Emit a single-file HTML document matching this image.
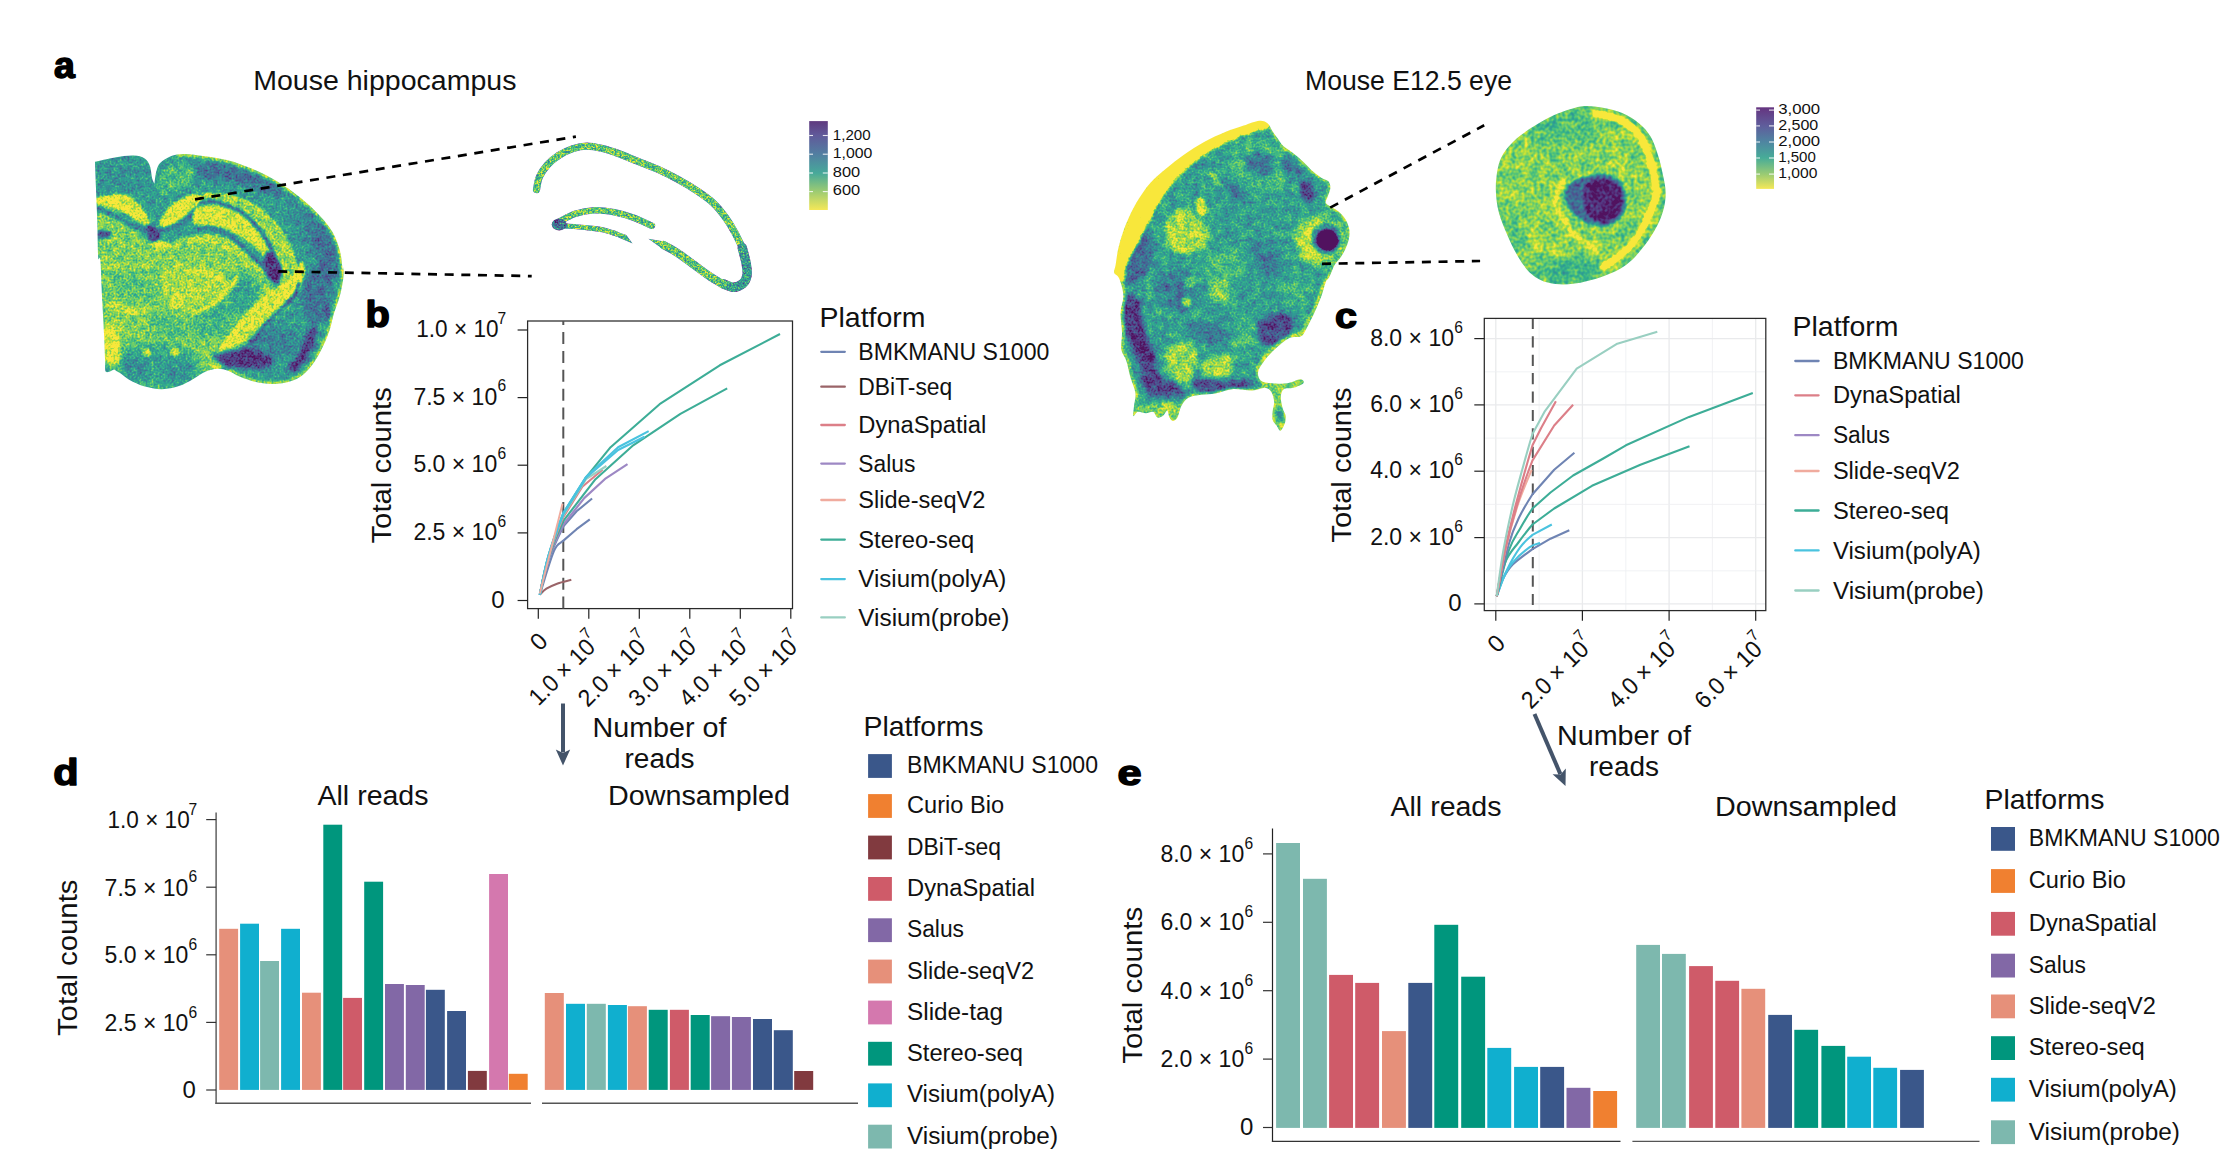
<!DOCTYPE html>
<html><head><meta charset="utf-8"><title>figure</title>
<style>
html,body{margin:0;padding:0;background:#fff;}
body{width:2233px;height:1166px;overflow:hidden;font-family:"Liberation Sans",sans-serif;}
svg{display:block;font-family:"Liberation Sans",sans-serif;}
</style></head><body>
<svg width="2233" height="1166" viewBox="0 0 2233 1166">
<rect width="2233" height="1166" fill="#fff"/>
<defs><clipPath id="brainclip"><path d="M95.0,161.8 C98.3,161.1 108.4,158.5 114.9,157.4 C121.3,156.4 128.5,155.4 133.5,155.6 C138.5,155.7 142.0,156.7 144.7,158.4 C147.4,160.2 148.7,162.8 149.9,166.1 C151.2,169.5 151.4,175.6 152.2,178.6 C152.9,181.5 154.0,182.9 154.4,183.8 C154.8,181.5 155.4,173.6 156.7,169.9 C157.9,166.1 158.7,163.7 162.1,161.2 C165.5,158.6 171.4,155.5 177.0,154.5 C182.6,153.4 187.4,154.0 195.7,154.9 C204.0,155.9 217.5,157.6 226.8,159.9 C236.1,162.2 243.4,165.1 251.7,168.6 C259.9,172.1 268.2,176.1 276.5,181.1 C284.8,186.0 294.1,192.7 301.4,198.5 C308.6,204.3 314.9,210.3 320.0,215.9 C325.2,221.5 329.2,226.2 332.5,232.0 C335.8,237.8 338.2,244.5 339.9,250.7 C341.6,256.9 342.1,266.6 342.7,269.3 C343.3,272.1 343.6,265.6 343.6,267.2 C343.7,268.9 343.8,274.4 343.2,279.2 C342.5,284.0 341.4,290.2 339.8,296.0 C338.2,301.8 335.6,308.0 333.8,314.0 C332.0,320.0 331.2,325.9 329.0,332.1 C326.8,338.3 323.8,345.3 320.6,351.3 C317.4,357.3 313.8,363.5 309.8,368.1 C305.8,372.7 302.0,376.3 296.6,378.9 C291.2,381.5 283.7,383.1 277.3,383.7 C270.9,384.3 264.3,383.7 258.1,382.5 C251.9,381.3 245.1,378.7 240.1,376.7 C235.1,374.8 231.9,372.0 228.1,370.7 C224.3,369.4 221.1,368.6 217.3,368.8 C213.5,369.0 209.3,370.0 205.3,371.7 C201.3,373.4 197.7,376.5 193.3,378.9 C188.9,381.3 184.1,384.4 178.9,386.1 C173.7,387.8 167.9,389.2 162.1,389.2 C156.3,389.3 149.4,387.9 144.0,386.3 C138.6,384.8 133.6,382.3 129.6,380.1 C125.6,377.9 122.6,374.9 120.0,373.1 C117.4,371.4 115.0,370.1 114.0,369.5 C112.7,369.9 107.3,373.3 105.9,371.7 C104.4,370.0 105.5,366.3 105.1,359.7 C104.8,353.1 104.5,342.7 103.9,332.1 C103.4,321.4 102.6,308.0 102.0,296.0 C101.4,284.0 101.0,266.5 100.3,260.0 C99.7,253.5 98.7,263.6 98.2,256.9 C97.7,250.2 97.6,231.0 97.2,219.6 C96.8,208.2 96.3,198.2 96.0,188.5 C95.6,178.9 95.1,166.2 95.0,161.8Z"/></clipPath>
<filter id="bl1" color-interpolation-filters="sRGB" x="-20%" y="-20%" width="140%" height="140%"><feGaussianBlur stdDeviation="0.9"/></filter>
<filter id="bl2" color-interpolation-filters="sRGB" x="-20%" y="-20%" width="140%" height="140%"><feGaussianBlur stdDeviation="2.2"/></filter>
<filter id="bl4" color-interpolation-filters="sRGB" x="-30%" y="-30%" width="160%" height="160%"><feGaussianBlur stdDeviation="4.5"/></filter>
<filter id="virB" color-interpolation-filters="sRGB" x="0" y="0" width="100%" height="100%"><feTurbulence type="fractalNoise" baseFrequency="0.5" numOctaves="2" seed="4" result="t"/><feColorMatrix in="t" type="matrix" values="1 0 0 0 0  1 0 0 0 0  1 0 0 0 0  0 0 0 0 1" result="n"/><feComposite in="SourceGraphic" in2="n" operator="arithmetic" k1="0" k2="1" k3="0.45499999999999996" k4="-0.227" result="g"/><feTurbulence type="fractalNoise" baseFrequency="0.16" numOctaves="2" seed="21" result="t2"/><feColorMatrix in="t2" type="matrix" values="1 0 0 0 0  1 0 0 0 0  1 0 0 0 0  0 0 0 0 1" result="n2"/><feComposite in="g" in2="n2" operator="arithmetic" k1="0" k2="1" k3="0.27999999999999997" k4="-0.140" result="g2"/><feComponentTransfer in="g2" result="c"><feFuncR type="table" tableValues="0.318 0.318 0.318 0.318 0.318 0.318 0.318 0.323 0.328 0.331 0.322 0.313 0.301 0.285 0.270 0.255 0.240 0.226 0.214 0.202 0.190 0.192 0.193 0.203 0.247 0.291 0.346 0.416 0.487 0.567 0.655 0.742 0.821 0.898 0.974 0.974 0.974 0.974 0.974 0.974 0.974"/><feFuncG type="table" tableValues="0.074 0.074 0.074 0.074 0.074 0.074 0.074 0.119 0.165 0.210 0.251 0.293 0.332 0.367 0.402 0.436 0.469 0.501 0.534 0.566 0.599 0.629 0.659 0.689 0.719 0.749 0.776 0.799 0.823 0.843 0.861 0.880 0.891 0.900 0.909 0.909 0.909 0.909 0.909 0.909 0.909"/><feFuncB type="table" tableValues="0.376 0.376 0.376 0.376 0.376 0.376 0.376 0.419 0.462 0.501 0.525 0.548 0.565 0.573 0.581 0.585 0.586 0.588 0.586 0.583 0.581 0.570 0.560 0.546 0.520 0.494 0.462 0.422 0.382 0.332 0.276 0.220 0.216 0.225 0.234 0.234 0.234 0.234 0.234 0.234 0.234"/><feFuncA type="linear" slope="1" intercept="0"/></feComponentTransfer><feComposite in="c" in2="SourceGraphic" operator="in"/></filter><clipPath id="embclip"><path d="M1259.3,120.7 C1263.3,120.3 1265.7,121.8 1267.8,123.5 C1269.9,125.1 1270.5,128.2 1272.0,130.6 C1273.6,132.9 1275.1,135.1 1277.0,137.6 C1278.9,140.2 1280.6,143.5 1283.3,146.1 C1286.1,148.7 1289.9,150.6 1293.3,153.2 C1296.6,155.8 1299.9,158.6 1303.2,161.7 C1306.5,164.8 1310.0,168.9 1313.1,171.6 C1316.1,174.3 1319.0,176.3 1321.6,178.0 C1324.2,179.6 1327.2,179.8 1328.6,181.5 C1330.1,183.3 1330.5,186.0 1330.3,188.6 C1330.1,191.2 1328.3,194.7 1327.5,197.1 C1326.8,199.5 1325.1,201.4 1325.8,203.0 C1326.5,204.7 1329.1,205.4 1331.5,207.0 C1333.8,208.6 1337.6,210.5 1340.0,212.7 C1342.4,214.8 1344.3,217.2 1345.9,220.0 C1347.5,222.9 1348.8,226.4 1349.3,229.6 C1349.8,232.9 1349.4,236.3 1348.7,239.6 C1348.1,242.9 1346.6,246.4 1345.2,249.5 C1343.8,252.5 1342.0,255.4 1340.2,258.0 C1338.5,260.6 1336.4,261.8 1334.6,265.0 C1332.8,268.2 1330.8,274.2 1329.3,277.1 C1327.9,279.9 1327.1,279.0 1325.8,282.0 C1324.5,285.1 1323.4,290.4 1321.6,295.5 C1319.7,300.5 1317.1,306.8 1314.5,312.5 C1311.9,318.1 1308.2,325.5 1306.0,329.4 C1303.7,333.4 1303.9,334.8 1301.0,336.2 C1298.2,337.7 1293.4,336.1 1289.0,338.2 C1284.6,340.4 1279.1,345.3 1274.9,349.3 C1270.6,353.2 1266.3,358.2 1263.5,362.0 C1260.7,365.8 1258.6,368.8 1258.1,371.9 C1257.7,375.0 1258.4,378.5 1260.7,380.4 C1263.0,382.3 1267.5,382.8 1272.0,383.2 C1276.5,383.7 1282.9,383.9 1287.6,383.2 C1292.3,382.6 1297.7,379.3 1300.3,379.3 C1303.0,379.3 1304.6,381.8 1303.4,383.2 C1302.3,384.6 1296.6,386.8 1293.3,387.8 C1289.9,388.8 1285.7,387.6 1283.6,389.2 C1281.6,390.8 1280.9,394.1 1280.8,397.4 C1280.7,400.6 1282.0,405.6 1282.8,408.7 C1283.6,411.8 1285.3,413.3 1285.6,415.8 C1285.9,418.3 1285.6,421.1 1284.8,423.6 C1283.9,426.1 1281.9,430.3 1280.5,430.7 C1279.2,431.0 1278.0,427.5 1276.7,425.7 C1275.4,423.9 1273.4,422.4 1272.7,420.0 C1272.0,417.7 1272.4,414.6 1272.6,411.5 C1272.8,408.5 1274.4,404.9 1274.1,401.6 C1273.9,398.4 1272.8,394.3 1271.3,392.0 C1269.8,389.7 1268.1,388.0 1264.9,387.8 C1261.8,387.5 1257.6,390.4 1252.2,390.6 C1246.8,390.8 1238.5,388.7 1232.4,389.2 C1226.3,389.7 1220.6,392.5 1215.4,393.4 C1210.2,394.4 1205.7,394.1 1201.2,394.8 C1196.8,395.5 1191.8,395.8 1188.5,397.7 C1185.2,399.5 1183.3,402.6 1181.4,405.9 C1179.6,409.1 1178.9,414.7 1177.5,417.2 C1176.1,419.7 1174.3,420.9 1172.9,420.9 C1171.6,420.9 1170.3,419.0 1169.4,417.2 C1168.5,415.5 1168.3,410.6 1167.3,410.4 C1166.2,410.2 1164.7,414.6 1163.0,415.8 C1161.4,417.0 1159.0,418.1 1157.4,417.5 C1155.7,416.8 1155.0,412.5 1153.1,411.8 C1151.2,411.1 1148.6,413.2 1146.0,413.2 C1143.5,413.2 1140.0,411.4 1137.8,411.8 C1135.7,412.3 1133.9,417.1 1133.3,416.1 C1132.7,415.1 1133.7,409.7 1134.0,405.9 C1134.4,402.1 1136.0,397.9 1135.4,393.1 C1134.8,388.4 1132.0,383.0 1130.5,377.6 C1128.9,372.1 1127.8,365.3 1126.2,360.6 C1124.7,355.9 1122.0,354.0 1121.3,349.3 C1120.6,344.5 1122.1,338.4 1122.0,332.3 C1121.9,326.1 1120.3,318.6 1120.6,312.5 C1120.8,306.3 1123.6,301.1 1123.4,295.5 C1123.2,289.8 1120.7,282.3 1119.2,278.5 C1117.6,274.7 1114.8,275.1 1114.2,272.8 C1113.6,270.6 1114.9,269.2 1115.6,265.0 C1116.3,260.9 1117.1,253.7 1118.4,248.1 C1119.7,242.4 1121.4,236.7 1123.4,231.1 C1125.4,225.4 1127.9,219.5 1130.5,214.1 C1133.1,208.7 1135.7,203.7 1139.0,198.5 C1142.3,193.3 1145.8,187.9 1150.3,182.9 C1154.8,178.0 1160.2,173.5 1165.9,168.8 C1171.5,164.1 1177.9,159.1 1184.3,154.6 C1190.6,150.1 1197.2,145.7 1204.1,141.9 C1210.9,138.1 1218.7,134.7 1225.3,132.0 C1231.9,129.3 1238.1,127.5 1243.7,125.6 C1249.4,123.7 1255.3,121.0 1259.3,120.7Z"/></clipPath>
<filter id="virE" color-interpolation-filters="sRGB" x="0" y="0" width="100%" height="100%"><feTurbulence type="fractalNoise" baseFrequency="0.5" numOctaves="2" seed="7" result="t"/><feColorMatrix in="t" type="matrix" values="1 0 0 0 0  1 0 0 0 0  1 0 0 0 0  0 0 0 0 1" result="n"/><feComposite in="SourceGraphic" in2="n" operator="arithmetic" k1="0" k2="1" k3="0.42" k4="-0.210" result="g"/><feTurbulence type="fractalNoise" baseFrequency="0.13" numOctaves="2" seed="23" result="t2"/><feColorMatrix in="t2" type="matrix" values="1 0 0 0 0  1 0 0 0 0  1 0 0 0 0  0 0 0 0 1" result="n2"/><feComposite in="g" in2="n2" operator="arithmetic" k1="0" k2="1" k3="0.315" k4="-0.158" result="g2"/><feComponentTransfer in="g2" result="c"><feFuncR type="table" tableValues="0.318 0.318 0.318 0.318 0.318 0.318 0.318 0.323 0.328 0.331 0.322 0.313 0.301 0.285 0.270 0.255 0.240 0.226 0.214 0.202 0.190 0.192 0.193 0.203 0.247 0.291 0.346 0.416 0.487 0.567 0.655 0.742 0.821 0.898 0.974 0.974 0.974 0.974 0.974 0.974 0.974"/><feFuncG type="table" tableValues="0.074 0.074 0.074 0.074 0.074 0.074 0.074 0.119 0.165 0.210 0.251 0.293 0.332 0.367 0.402 0.436 0.469 0.501 0.534 0.566 0.599 0.629 0.659 0.689 0.719 0.749 0.776 0.799 0.823 0.843 0.861 0.880 0.891 0.900 0.909 0.909 0.909 0.909 0.909 0.909 0.909"/><feFuncB type="table" tableValues="0.376 0.376 0.376 0.376 0.376 0.376 0.376 0.419 0.462 0.501 0.525 0.548 0.565 0.573 0.581 0.585 0.586 0.588 0.586 0.583 0.581 0.570 0.560 0.546 0.520 0.494 0.462 0.422 0.382 0.332 0.276 0.220 0.216 0.225 0.234 0.234 0.234 0.234 0.234 0.234 0.234"/><feFuncA type="linear" slope="1" intercept="0"/></feComponentTransfer><feComposite in="c" in2="SourceGraphic" operator="in"/></filter><filter id="virH" color-interpolation-filters="sRGB" x="-5%" y="-8%" width="110%" height="116%"><feTurbulence type="fractalNoise" baseFrequency="0.6" numOctaves="2" seed="5" result="t"/><feColorMatrix in="t" type="matrix" values="1 0 0 0 0  1 0 0 0 0  1 0 0 0 0  0 0 0 0 1" result="n"/><feComposite in="SourceGraphic" in2="n" operator="arithmetic" k1="0" k2="1" k3="0.77" k4="-0.385" result="g"/><feTurbulence type="fractalNoise" baseFrequency="0.2" numOctaves="2" seed="2" result="t2"/><feColorMatrix in="t2" type="matrix" values="1 0 0 0 0  1 0 0 0 0  1 0 0 0 0  0 0 0 0 1" result="n2"/><feComposite in="g" in2="n2" operator="arithmetic" k1="0" k2="1" k3="0.35" k4="-0.175" result="g2"/><feComponentTransfer in="g2" result="c"><feFuncR type="table" tableValues="0.318 0.318 0.318 0.318 0.318 0.318 0.318 0.323 0.328 0.331 0.322 0.313 0.301 0.285 0.270 0.255 0.240 0.226 0.214 0.202 0.190 0.192 0.193 0.203 0.247 0.291 0.346 0.416 0.487 0.567 0.655 0.742 0.821 0.898 0.974 0.974 0.974 0.974 0.974 0.974 0.974"/><feFuncG type="table" tableValues="0.074 0.074 0.074 0.074 0.074 0.074 0.074 0.119 0.165 0.210 0.251 0.293 0.332 0.367 0.402 0.436 0.469 0.501 0.534 0.566 0.599 0.629 0.659 0.689 0.719 0.749 0.776 0.799 0.823 0.843 0.861 0.880 0.891 0.900 0.909 0.909 0.909 0.909 0.909 0.909 0.909"/><feFuncB type="table" tableValues="0.376 0.376 0.376 0.376 0.376 0.376 0.376 0.419 0.462 0.501 0.525 0.548 0.565 0.573 0.581 0.585 0.586 0.588 0.586 0.583 0.581 0.570 0.560 0.546 0.520 0.494 0.462 0.422 0.382 0.332 0.276 0.220 0.216 0.225 0.234 0.234 0.234 0.234 0.234 0.234 0.234"/><feFuncA type="linear" slope="1" intercept="0"/></feComponentTransfer><feComposite in="c" in2="SourceGraphic" operator="in"/></filter>
<filter id="virY" color-interpolation-filters="sRGB" x="0" y="0" width="100%" height="100%"><feTurbulence type="fractalNoise" baseFrequency="0.32" numOctaves="1" seed="9" result="t"/><feColorMatrix in="t" type="matrix" values="1 0 0 0 0  1 0 0 0 0  1 0 0 0 0  0 0 0 0 1" result="n"/><feComposite in="SourceGraphic" in2="n" operator="arithmetic" k1="0" k2="1" k3="0.385" k4="-0.193" result="g"/><feTurbulence type="fractalNoise" baseFrequency="0.1" numOctaves="2" seed="12" result="t2"/><feColorMatrix in="t2" type="matrix" values="1 0 0 0 0  1 0 0 0 0  1 0 0 0 0  0 0 0 0 1" result="n2"/><feComposite in="g" in2="n2" operator="arithmetic" k1="0" k2="1" k3="0.24499999999999997" k4="-0.122" result="g2"/><feComponentTransfer in="g2" result="c"><feFuncR type="table" tableValues="0.318 0.318 0.318 0.318 0.318 0.318 0.318 0.323 0.328 0.331 0.322 0.313 0.301 0.285 0.270 0.255 0.240 0.226 0.214 0.202 0.190 0.192 0.193 0.203 0.247 0.291 0.346 0.416 0.487 0.567 0.655 0.742 0.821 0.898 0.974 0.974 0.974 0.974 0.974 0.974 0.974"/><feFuncG type="table" tableValues="0.074 0.074 0.074 0.074 0.074 0.074 0.074 0.119 0.165 0.210 0.251 0.293 0.332 0.367 0.402 0.436 0.469 0.501 0.534 0.566 0.599 0.629 0.659 0.689 0.719 0.749 0.776 0.799 0.823 0.843 0.861 0.880 0.891 0.900 0.909 0.909 0.909 0.909 0.909 0.909 0.909"/><feFuncB type="table" tableValues="0.376 0.376 0.376 0.376 0.376 0.376 0.376 0.419 0.462 0.501 0.525 0.548 0.565 0.573 0.581 0.585 0.586 0.588 0.586 0.583 0.581 0.570 0.560 0.546 0.520 0.494 0.462 0.422 0.382 0.332 0.276 0.220 0.216 0.225 0.234 0.234 0.234 0.234 0.234 0.234 0.234"/><feFuncA type="linear" slope="1" intercept="0"/></feComponentTransfer><feComposite in="c" in2="SourceGraphic" operator="in"/></filter>
<clipPath id="eyeclip"><path d="M1580.8,106.4 C1588.6,105.2 1594.6,106.3 1601.5,107.4 C1608.4,108.5 1616.0,110.3 1622.3,113.0 C1628.6,115.7 1634.5,119.5 1639.2,123.4 C1644.0,127.3 1647.4,131.3 1650.6,136.6 C1653.7,141.9 1656.1,149.2 1658.1,155.5 C1660.2,161.8 1661.6,168.1 1662.8,174.3 C1664.1,180.6 1665.7,186.9 1665.7,193.2 C1665.7,199.5 1664.7,205.8 1662.8,212.1 C1660.9,218.4 1658.0,224.7 1654.3,230.9 C1650.7,237.2 1645.8,244.2 1641.1,249.8 C1636.4,255.5 1632.3,260.5 1626.0,264.9 C1619.7,269.3 1612.2,273.1 1603.4,276.2 C1594.6,279.4 1582.3,282.7 1573.2,283.8 C1564.1,284.9 1555.6,284.4 1548.7,282.8 C1541.8,281.3 1536.7,278.6 1531.7,274.3 C1526.7,270.1 1522.6,264.0 1518.5,257.4 C1514.4,250.8 1510.5,242.3 1507.2,234.7 C1503.9,227.2 1500.6,219.6 1498.7,212.1 C1496.8,204.5 1496.0,196.7 1495.8,189.4 C1495.7,182.2 1496.5,174.7 1497.7,168.7 C1499.0,162.7 1500.3,158.6 1503.4,153.6 C1506.5,148.6 1511.3,143.2 1516.6,138.5 C1521.9,133.8 1529.2,129.2 1535.5,125.3 C1541.8,121.4 1546.8,118.1 1554.3,114.9 C1561.9,111.8 1572.9,107.7 1580.8,106.4Z"/></clipPath>
<linearGradient id="cb1" x1="0" y1="0" x2="0" y2="1"><stop offset="0" stop-color="#5F3A7F"/><stop offset="0.16" stop-color="#605A9A"/><stop offset="0.37" stop-color="#527EA1"/><stop offset="0.585" stop-color="#47A99A"/><stop offset="0.79" stop-color="#9CCB72"/><stop offset="1" stop-color="#F4E858"/></linearGradient>
<linearGradient id="cb2" x1="0" y1="0" x2="0" y2="1"><stop offset="0" stop-color="#653480"/><stop offset="0.23" stop-color="#5F5E9C"/><stop offset="0.42" stop-color="#4F84A1"/><stop offset="0.62" stop-color="#47AC98"/><stop offset="0.82" stop-color="#9ACB73"/><stop offset="1" stop-color="#F4E858"/></linearGradient><!--MOREDEFS--></defs>
<g clip-path="url(#brainclip)"><g filter="url(#virB)">
<rect x="85" y="145" width="270" height="250" fill="#858585"/>
<path d="M195.7,163.7 C201.5,161.6 216.4,163.0 226.8,164.9 C237.1,166.8 248.5,170.7 257.9,174.8 C267.2,179.0 279.6,186.0 282.7,189.8 C285.8,193.5 282.7,197.8 276.5,197.2 C270.3,196.6 255.8,188.9 245.4,186.0 C235.1,183.1 223.3,181.3 214.3,179.8 C205.4,178.4 195.1,180.0 192.0,177.3 C188.9,174.6 189.9,165.7 195.7,163.7Z" fill="#5e5e5e" opacity="0.85" filter="url(#bl2)"/>
<path d="M307.6,214.6 C311.8,214.2 321.5,223.5 326.3,229.6 C331.0,235.6 334.1,243.0 336.2,250.7 C338.3,258.4 340.4,270.4 338.7,275.6 C337.0,280.7 330.0,284.9 326.3,281.8 C322.5,278.7 320.5,265.2 316.3,256.9 C312.2,248.6 302.8,239.1 301.4,232.0 C299.9,225.0 303.5,215.0 307.6,214.6Z" fill="#5c5c5c" opacity="0.85" filter="url(#bl2)"/>
<path d="M284.0,197.2 C287.1,195.6 302.6,202.6 307.6,209.7 C312.6,216.7 314.9,233.7 313.8,239.5 C312.8,245.3 305.5,247.8 301.4,244.5 C297.2,241.2 291.9,227.5 289.0,219.6 C286.1,211.7 280.9,198.9 284.0,197.2Z" fill="#757575" opacity="0.8" filter="url(#bl4)"/>
<path d="M97.5,169.9 C102.4,165.5 119.4,164.1 127.3,163.7 C135.2,163.2 141.4,163.2 144.7,167.4 C148.0,171.5 150.1,184.4 147.2,188.5 C144.3,192.7 133.7,192.7 127.3,192.3 C120.9,191.8 113.6,186.4 108.7,186.0 C103.7,185.6 99.3,192.5 97.5,189.8 C95.6,187.1 92.5,174.2 97.5,169.9Z" fill="#787878" opacity="0.7" filter="url(#bl4)"/>
<path d="M159.6,173.6 C162.5,168.0 170.8,164.3 177.0,163.7 C183.3,163.0 194.9,166.1 196.9,169.9 C199.0,173.6 194.0,182.3 189.5,186.0 C184.9,189.8 174.6,190.4 169.6,192.3 C164.6,194.1 161.3,200.3 159.6,197.2 C158.0,194.1 156.7,179.2 159.6,173.6Z" fill="#a2a2a2" opacity="0.8" filter="url(#bl2)"/>
<path d="M309.8,269.6 C313.8,266.4 321.6,262.8 325.4,267.2 C329.2,271.6 333.8,286.8 332.6,296.0 C331.4,305.2 323.0,320.0 318.2,322.4 C313.4,324.8 306.6,316.4 303.8,310.4 C301.0,304.4 300.4,293.2 301.4,286.4 C302.4,279.6 305.8,272.8 309.8,269.6Z" fill="#5d5d5d" opacity="0.8" filter="url(#bl2)"/>
<path d="M96.2,239.5 C105.5,240.7 138.7,246.8 152.2,247.0 C165.6,247.2 166.7,241.4 177.0,240.7 C187.4,240.1 202.9,240.5 214.3,243.2 C225.7,245.9 237.1,251.9 245.4,256.9 C253.7,261.9 258.9,266.9 264.1,273.1 C269.3,279.3 274.4,290.7 276.5,294.2" fill="none" stroke="#b2b2b2" stroke-width="1" stroke-linecap="round" stroke-linejoin="round" opacity="1" filter="url(#bl2)"/>
<path d="M96.2,203.4 C100.4,190.7 118.4,213.2 127.3,219.6 C136.2,226.0 141.4,238.7 149.7,242.0 C158.0,245.3 166.3,239.5 177.0,239.5 C187.8,239.5 202.9,239.5 214.3,242.0 C225.7,244.5 237.1,249.5 245.4,254.4 C253.7,259.4 259.3,265.9 264.1,271.8 C268.9,277.8 271.8,286.8 274.0,290.0 C276.2,293.2 278.0,287.8 277.3,291.2 C276.7,294.6 273.7,304.4 270.1,310.4 C266.5,316.4 261.7,321.6 255.7,327.3 C249.7,332.9 240.7,338.1 234.1,344.1 C227.5,350.1 220.9,358.7 216.1,363.3 C211.3,367.9 209.1,369.1 205.3,371.7 C201.5,374.3 197.7,376.5 193.3,378.9 C188.9,381.3 184.1,384.4 178.9,386.1 C173.7,387.8 167.9,389.2 162.1,389.2 C156.3,389.3 151.0,389.0 144.0,386.3 C137.0,383.7 126.5,377.6 120.0,373.1 C113.5,368.7 108.1,372.5 105.1,359.7 C102.1,346.8 103.5,322.1 102.0,296.0 C100.5,270.0 92.0,216.2 96.2,203.4Z" fill="#b2b2b2" filter="url(#bl2)"/>
<path d="M108.0,274.4 C111.4,270.0 132.2,268.0 140.4,269.6 C148.6,271.2 156.1,279.0 157.3,284.0 C158.5,289.0 153.8,297.6 147.6,299.6 C141.4,301.6 126.6,300.2 120.0,296.0 C113.4,291.8 104.6,278.8 108.0,274.4Z" fill="#9f9f9f" opacity="0.7" filter="url(#bl4)"/>
<path d="M226.9,278.0 C230.9,274.4 242.9,272.2 248.5,274.4 C254.1,276.6 260.1,285.0 260.5,291.2 C260.9,297.4 255.3,308.4 250.9,311.6 C246.5,314.8 238.5,313.0 234.1,310.4 C229.7,307.8 225.7,301.4 224.5,296.0 C223.3,290.6 222.9,281.6 226.9,278.0Z" fill="#838383" opacity="0.85" filter="url(#bl4)"/>
<path d="M116.4,351.3 C119.8,345.5 138.4,344.5 150.0,344.1 C161.7,343.7 177.7,345.3 186.1,348.9 C194.5,352.5 199.7,360.5 200.5,365.7 C201.3,370.9 197.3,376.3 190.9,380.1 C184.5,383.9 172.3,388.7 162.1,388.5 C151.8,388.3 137.2,385.1 129.6,378.9 C122.0,372.7 113.0,357.1 116.4,351.3Z" fill="#838383" opacity="0.85" filter="url(#bl4)"/>
<path d="M121.2,362.1 C123.4,359.1 138.8,358.3 142.8,360.9 C146.8,363.5 147.4,374.7 145.2,377.7 C143.0,380.7 133.6,381.5 129.6,378.9 C125.6,376.3 119.0,365.1 121.2,362.1Z" fill="#686868" opacity="0.6" filter="url(#bl4)"/>
<path d="M166.9,365.7 C169.3,363.1 182.5,363.5 186.1,365.7 C189.7,367.9 190.9,376.3 188.5,378.9 C186.1,381.5 175.3,383.5 171.7,381.3 C168.1,379.1 164.5,368.3 166.9,365.7Z" fill="#686868" opacity="0.6" filter="url(#bl4)"/>
<path d="M152.4,312.8 C157.7,310.4 173.7,314.4 181.3,317.6 C188.9,320.8 199.3,328.5 198.1,332.1 C196.9,335.7 182.1,339.3 174.1,339.3 C166.1,339.3 153.6,336.5 150.0,332.1 C146.4,327.7 147.2,315.2 152.4,312.8Z" fill="#999999" opacity="0.7" filter="url(#bl4)"/>
<path d="M198.1,310.4 C201.7,304.2 215.1,299.6 222.1,299.6 C229.1,299.6 240.1,305.0 240.1,310.4 C240.1,315.8 228.7,327.7 222.1,332.1 C215.5,336.5 204.5,340.5 200.5,336.9 C196.5,333.3 194.5,316.6 198.1,310.4Z" fill="#8a8a8a" opacity="0.7" filter="url(#bl4)"/>
<path d="M174.1,264.8 C182.1,262.4 200.5,264.8 210.1,267.2 C219.7,269.6 229.7,274.4 231.7,279.2 C233.7,284.0 227.7,291.6 222.1,296.0 C216.5,300.4 206.1,305.0 198.1,305.6 C190.1,306.2 180.1,303.6 174.1,299.6 C168.1,295.6 162.1,287.4 162.1,281.6 C162.1,275.8 166.1,267.2 174.1,264.8Z" fill="#c4c4c4" opacity="0.85" filter="url(#bl4)"/>
<path d="M192.1,312.8 C195.1,311.6 204.1,309.4 210.1,305.6 C216.1,301.8 223.6,294.8 228.1,290.0 C232.6,285.2 235.6,279.0 237.1,276.8" fill="none" stroke="#d7d7d7" stroke-width="4.5" stroke-linecap="round" stroke-linejoin="round" opacity="0.9" filter="url(#bl1)"/>
<path d="M171.7,294.8 C173.1,292.8 179.6,294.0 181.3,296.0 C183.0,298.0 183.3,304.8 181.9,306.8 C180.5,308.8 174.6,310.0 172.9,308.0 C171.2,306.0 170.3,296.8 171.7,294.8Z" fill="#d7d7d7" opacity="0.9" filter="url(#bl1)"/>
<path d="M198.1,272.0 C201.1,272.6 211.5,273.2 216.1,275.6 C220.7,278.0 224.1,284.6 225.7,286.4" fill="none" stroke="#d3d3d3" stroke-width="5" stroke-linecap="round" stroke-linejoin="round" opacity="0.8" filter="url(#bl2)"/>
<path d="M103.2,327.3 C104.6,321.2 111.0,322.0 114.0,324.8 C117.0,327.7 120.4,337.9 121.2,344.1 C122.0,350.3 121.4,359.3 118.8,362.1 C116.2,364.9 108.2,366.7 105.6,360.9 C103.0,355.1 101.8,333.3 103.2,327.3Z" fill="#d7d7d7" opacity="0.95" filter="url(#bl2)"/>
<path d="M108.0,305.6 C111.0,306.4 120.0,309.1 126.0,310.4 C132.0,311.7 141.0,312.9 144.0,313.4" fill="none" stroke="#d7d7d7" stroke-width="6" stroke-linecap="round" stroke-linejoin="round" opacity="0.9" filter="url(#bl2)"/>
<path d="M102.0,269.6 C106.0,268.8 118.0,265.2 126.0,264.8 C134.0,264.4 146.0,266.8 150.0,267.2" fill="none" stroke="#cecece" stroke-width="5" stroke-linecap="round" stroke-linejoin="round" opacity="0.6" filter="url(#bl2)"/>
<path d="M142.8,348.9 C143.8,348.0 148.8,348.9 150.0,350.1 C151.2,351.3 151.0,355.2 150.0,356.1 C149.0,357.0 145.2,356.7 144.0,355.5 C142.8,354.3 141.8,349.8 142.8,348.9Z" fill="#d7d7d7" opacity="0.9" filter="url(#bl1)"/>
<path d="M170.5,348.9 C171.5,347.7 176.4,347.3 177.7,348.3 C179.0,349.3 179.3,353.7 178.3,354.9 C177.3,356.1 173.0,356.5 171.7,355.5 C170.4,354.5 169.5,350.1 170.5,348.9Z" fill="#d7d7d7" opacity="0.9" filter="url(#bl1)"/>
<path d="M201.9,194.7 C204.2,193.3 213.3,193.7 220.6,194.7 C227.8,195.8 237.1,197.0 245.4,201.0 C253.7,204.9 263.3,211.5 270.3,218.4 C277.3,225.2 283.4,233.9 287.7,242.0 C292.1,250.1 294.6,258.9 296.4,266.9 C298.3,274.9 298.1,288.7 298.9,290.0 C299.7,291.2 302.2,274.2 301.4,274.4 C300.6,274.6 298.2,287.6 294.2,291.2 C290.2,294.8 279.3,298.8 277.3,296.0 C275.3,293.2 281.5,278.9 282.1,274.4 C282.8,270.0 283.1,273.7 281.5,269.3 C279.9,265.0 276.7,254.8 272.8,248.2 C268.9,241.6 263.5,235.2 257.9,229.6 C252.3,224.0 245.4,218.4 239.2,214.6 C233.0,210.9 226.0,209.0 220.6,207.2 C215.2,205.3 210.0,205.5 206.9,203.4 C203.8,201.4 199.6,196.2 201.9,194.7Z" fill="#bbbbbb" filter="url(#bl1)"/>
<path d="M201.9,194.1 C205.0,194.2 213.3,193.6 220.6,194.7 C227.8,195.9 237.1,197.0 245.4,201.0 C253.7,204.9 263.3,211.5 270.3,218.4 C277.3,225.2 283.4,233.9 287.7,242.0 C292.1,250.1 294.6,259.2 296.4,266.9 C298.3,274.5 298.5,284.5 298.9,288.0" fill="none" stroke="#d2d2d2" stroke-width="2.2" stroke-linecap="round" stroke-linejoin="round" opacity="0.95" filter="url(#bl1)"/>
<path d="M214.3,199.7 C219.5,201.0 236.5,203.0 245.4,207.2 C254.3,211.3 261.6,217.7 267.8,224.6 C274.0,231.4 279.0,240.3 282.7,248.2 C286.5,256.1 289.0,267.9 290.2,271.8" fill="none" stroke="#9f9f9f" stroke-width="1.3" stroke-linecap="round" stroke-linejoin="round" opacity="0.7" filter="url(#bl1)"/>
<path d="M301.4,261.2 C299.6,261.8 298.2,271.2 294.2,275.6 C290.2,280.0 283.3,283.4 277.3,287.6 C271.3,291.8 264.3,295.2 258.1,300.8 C251.9,306.4 246.1,313.8 240.1,321.2 C234.1,328.7 226.9,337.7 222.1,345.3 C217.3,352.9 211.5,363.1 211.3,366.9 C211.1,370.7 216.9,371.1 220.9,368.1 C224.9,365.1 229.9,355.7 235.3,348.9 C240.7,342.1 247.5,333.3 253.3,327.3 C259.1,321.2 264.5,317.4 270.1,312.8 C275.7,308.2 282.1,303.6 286.9,299.6 C291.8,295.6 296.0,293.4 299.0,288.8 C302.0,284.2 304.6,276.6 305.0,272.0 C305.4,267.4 303.2,260.6 301.4,261.2Z" fill="#d7d7d7" opacity="1" filter="url(#bl1)"/>
<path d="M96.8,197.8 C100.9,196.3 114.2,193.2 121.1,194.1 C127.9,195.0 133.2,199.2 137.9,203.4 C142.5,207.7 148.0,216.0 149.1,219.6 C150.1,223.2 147.7,226.0 144.1,225.2 C140.5,224.4 132.8,217.6 127.3,214.6 C121.8,211.6 116.2,209.0 111.1,207.2 C106.1,205.3 99.2,205.0 96.8,203.4 C94.5,201.9 92.8,199.4 96.8,197.8Z" fill="#d7d7d7" opacity="0.97" filter="url(#bl1)"/>
<path d="M159.6,222.7 C159.9,219.7 163.8,213.5 167.1,209.7 C170.4,205.8 175.2,202.2 179.5,199.7 C183.9,197.2 189.4,194.9 193.2,194.5 C197.0,194.1 201.4,195.7 202.5,197.2 C203.7,198.7 202.2,201.0 200.0,203.4 C197.9,205.9 193.3,209.0 189.5,212.1 C185.6,215.3 181.1,219.8 177.0,222.3 C173.0,224.9 168.1,227.6 165.2,227.7 C162.3,227.8 159.3,225.7 159.6,222.7Z" fill="#d7d7d7" opacity="0.97" filter="url(#bl1)"/>
<path d="M149.7,242.0 C149.7,240.3 156.3,240.3 159.6,240.7 C163.0,241.2 169.6,242.8 169.6,244.5 C169.6,246.1 163.0,251.1 159.6,250.7 C156.3,250.3 149.7,243.6 149.7,242.0Z" fill="#d7d7d7" opacity="0.9" filter="url(#bl1)"/>
<path d="M96.8,207.8 C99.8,209.2 108.8,213.1 114.9,216.1 C121.0,219.2 127.9,223.4 133.5,226.1 C139.1,228.8 146.0,231.3 148.4,232.3" fill="none" stroke="#6b6b6b" stroke-width="5" stroke-linecap="round" stroke-linejoin="round" opacity="0.95" filter="url(#bl1)"/>
<path d="M159.6,231.4 C162.5,230.5 171.7,228.8 177.0,226.1 C182.4,223.3 187.8,218.6 192.0,214.9 C196.1,211.2 198.9,206.3 201.9,204.1 C204.9,201.8 208.6,201.7 210.0,201.2" fill="none" stroke="#6b6b6b" stroke-width="5" stroke-linecap="round" stroke-linejoin="round" opacity="0.95" filter="url(#bl1)"/>
<path d="M199.4,205.9 C204.0,204.5 213.9,204.7 220.6,205.9 C227.2,207.2 233.4,209.9 239.2,213.4 C245.0,216.9 250.7,221.9 255.4,227.1 C260.0,232.3 264.3,238.9 267.2,244.5 C270.1,250.1 273.3,258.6 272.8,260.6 C272.3,262.7 267.6,259.6 264.1,256.9 C260.6,254.2 256.2,248.2 251.7,244.5 C247.1,240.7 241.9,237.2 236.7,234.5 C231.5,231.8 226.4,229.8 220.6,228.3 C214.8,226.9 206.3,226.4 201.9,225.8 C197.6,225.2 195.9,226.4 194.5,224.6 C193.0,222.7 192.4,217.7 193.2,214.6 C194.0,211.5 194.9,207.4 199.4,205.9Z" fill="#cecece" opacity="1" filter="url(#bl1)"/>
<path d="M177.0,242.0 C177.3,240.5 189.7,235.6 196.9,234.5 C204.2,233.5 213.5,234.1 220.6,235.8 C227.6,237.4 233.4,240.5 239.2,244.5 C245.0,248.4 250.8,254.6 255.4,259.4 C259.9,264.2 267.2,271.4 266.6,273.1 C266.0,274.7 257.2,272.5 251.7,269.3 C246.1,266.2 239.2,258.4 233.0,254.4 C226.8,250.5 220.6,247.6 214.3,245.7 C208.1,243.9 201.9,243.9 195.7,243.2 C189.5,242.6 176.8,243.4 177.0,242.0Z" fill="#c1c1c1" opacity="1" filter="url(#bl1)"/>
<path d="M210.0,201.2 C211.8,201.6 215.7,201.8 220.6,203.4 C225.4,205.1 233.4,207.4 239.2,210.9 C245.0,214.4 250.6,219.4 255.4,224.6 C260.1,229.8 264.7,236.6 267.8,242.0 C271.0,247.4 272.8,252.4 274.3,256.9 C275.7,261.5 276.1,267.3 276.5,269.3" fill="none" stroke="#565656" stroke-width="3.4" stroke-linecap="round" stroke-linejoin="round" opacity="1" filter="url(#bl1)"/>
<path d="M267.8,251.9 C269.7,251.3 273.3,254.0 275.3,256.9 C277.2,259.8 279.0,265.2 279.6,269.3 C280.3,273.5 279.9,279.5 279.0,281.8 C278.1,284.1 275.9,284.9 274.0,283.0 C272.2,281.2 269.5,274.3 267.8,270.6 C266.2,266.9 264.1,263.8 264.1,260.6 C264.1,257.5 266.0,252.6 267.8,251.9Z" fill="#393939" opacity="1" filter="url(#bl1)"/>
<path d="M262.9,261.2 C264.1,259.2 269.5,259.2 272.5,260.0 C275.5,260.8 279.6,263.2 280.9,266.0 C282.2,268.8 281.7,274.4 280.3,276.8 C278.9,279.2 275.0,281.2 272.5,280.4 C270.0,279.6 266.9,275.2 265.3,272.0 C263.7,268.8 261.7,263.2 262.9,261.2Z" fill="#393939" opacity="1" filter="url(#bl1)"/>
<path d="M197.2,229.8 C199.0,229.5 204.2,227.7 208.1,227.9 C212.0,228.1 216.4,229.3 220.6,231.0 C224.7,232.8 228.9,235.4 233.0,238.5 C237.1,241.6 241.5,246.0 245.4,249.7 C249.4,253.4 253.1,257.6 256.6,260.9 C260.1,264.2 264.9,268.1 266.6,269.6" fill="none" stroke="#686868" stroke-width="3.8" stroke-linecap="round" stroke-linejoin="round" opacity="1" filter="url(#bl1)"/>
<path d="M148.7,225.8 C150.7,225.2 158.1,227.3 159.6,229.6 C161.2,231.8 159.8,237.6 158.1,239.5 C156.5,241.4 151.7,242.0 149.9,241.0 C148.2,240.0 147.7,235.8 147.4,233.3 C147.2,230.8 146.7,226.4 148.7,225.8Z" fill="#464646" opacity="1" filter="url(#bl1)"/>
<path d="M97.7,231.0 C99.7,230.1 108.1,231.0 109.9,232.0 C111.7,233.0 110.6,236.0 108.7,237.0 C106.7,238.0 100.0,239.0 98.2,238.0 C96.4,237.0 95.8,232.0 97.7,231.0Z" fill="#464646" opacity="0.95" filter="url(#bl1)"/>
<path d="M213.7,356.1 C215.7,353.5 226.7,350.1 234.1,348.9 C241.5,347.7 251.7,347.3 258.1,348.9 C264.5,350.5 270.9,355.3 272.5,358.5 C274.1,361.7 273.1,366.5 267.7,368.1 C262.3,369.7 247.7,368.7 240.1,368.1 C232.5,367.5 226.5,366.5 222.1,364.5 C217.7,362.5 211.7,358.7 213.7,356.1Z" fill="#363636" opacity="0.95" filter="url(#bl2)"/>
<path d="M315.8,324.8 C317.0,326.5 315.4,337.7 313.4,344.1 C311.4,350.5 307.0,358.7 303.8,363.3 C300.6,367.9 297.0,370.9 294.2,371.7 C291.4,372.5 286.1,371.1 286.9,368.1 C287.8,365.1 295.8,359.3 299.0,353.7 C302.2,348.1 303.4,339.3 306.2,334.5 C309.0,329.7 314.6,323.2 315.8,324.8Z" fill="#363636" opacity="0.95" filter="url(#bl2)"/>
<path d="M246.1,329.7 C248.5,326.5 262.1,326.9 270.1,327.3 C278.1,327.7 289.8,328.1 294.2,332.1 C298.6,336.1 299.4,347.3 296.6,351.3 C293.8,355.3 284.1,356.9 277.3,356.1 C270.5,355.3 260.9,350.9 255.7,346.5 C250.5,342.1 243.7,332.9 246.1,329.7Z" fill="#696969" opacity="0.8" filter="url(#bl4)"/>
<path d="M325.4,305.6 C326.4,304.6 329.6,308.0 330.2,310.4 C330.8,312.8 330.0,319.0 329.0,320.0 C328.0,321.0 324.8,318.8 324.2,316.4 C323.6,314.0 324.4,306.6 325.4,305.6Z" fill="#424242" opacity="0.8" filter="url(#bl1)"/>
<path d="M299.0,284.0 C298.2,286.0 297.0,292.0 294.2,296.0 C291.4,300.0 286.1,304.0 282.1,308.0 C278.1,312.0 273.7,316.4 270.1,320.0 C266.5,323.7 262.9,326.7 260.5,329.9 C258.1,333.1 257.5,337.3 255.7,339.3 C253.9,341.3 250.7,341.5 249.7,341.9" fill="none" stroke="#4b4b4b" stroke-width="1.9" stroke-linecap="round" stroke-linejoin="round" opacity="0.95" filter="url(#bl1)"/>
<path d="M270.1,287.6 C274.9,285.8 284.9,295.8 286.9,299.6 C289.0,303.4 285.3,306.6 282.1,310.4 C278.9,314.2 271.7,318.8 267.7,322.4 C263.7,326.1 261.7,328.9 258.1,332.1 C254.5,335.3 250.1,338.5 246.1,341.7 C242.1,344.9 235.1,352.9 234.1,351.3 C233.1,349.7 236.1,338.9 240.1,332.1 C244.1,325.2 253.1,317.8 258.1,310.4 C263.1,303.0 265.3,289.4 270.1,287.6Z" fill="#cdcdcd" opacity="0.8" filter="url(#bl2)"/>
<path d="M299.0,284.0 C298.2,286.0 297.0,292.0 294.2,296.0 C291.4,300.0 286.1,304.0 282.1,308.0 C278.1,312.0 273.7,316.4 270.1,320.0 C266.5,323.7 262.9,326.7 260.5,329.9 C258.1,333.1 257.5,337.3 255.7,339.3 C253.9,341.3 250.7,341.5 249.7,341.9" fill="none" stroke="#4b4b4b" stroke-width="1.9" stroke-linecap="round" stroke-linejoin="round" opacity="0.95" filter="url(#bl1)"/>
<path d="M177.0,155.2 C180.2,155.3 187.4,154.8 195.7,155.7 C204.0,156.6 217.5,158.4 226.8,160.7 C236.1,162.9 243.4,165.8 251.7,169.4 C259.9,172.9 268.2,176.8 276.5,181.8 C284.8,186.8 294.1,193.4 301.4,199.2 C308.6,205.0 314.9,211.0 320.0,216.6 C325.2,222.2 329.2,227.0 332.5,232.8 C335.8,238.6 338.1,245.2 339.7,251.3 C341.3,257.4 341.6,266.7 342.2,269.3 C342.7,272.0 342.9,265.6 342.9,267.2 C343.0,268.9 343.1,274.4 342.4,279.2 C341.8,284.0 340.6,290.2 339.1,296.0 C337.5,301.8 334.9,308.0 333.1,314.0 C331.3,320.0 330.5,325.9 328.3,332.1 C326.1,338.3 323.1,345.3 319.9,351.3 C316.7,357.2 313.0,363.1 309.0,367.6 C305.1,372.1 301.4,375.6 296.1,378.2 C290.8,380.7 283.7,382.4 277.3,383.0 C271.0,383.6 264.3,382.9 258.1,381.8 C251.9,380.6 245.1,378.0 240.1,376.0 C235.1,374.0 230.1,371.0 228.1,370.0" fill="none" stroke="#c0c0c0" stroke-width="3.6" opacity="1" filter="url(#bl1)"/>
</g></g>
<g clip-path="url(#embclip)"><g filter="url(#virE)">
<rect x="1105" y="115" width="255" height="325" fill="#878787"/>
<path d="M1232.4,147.6 C1236.4,142.4 1245.4,139.8 1253.6,140.5 C1261.9,141.2 1275.6,146.1 1281.9,151.8 C1288.3,157.5 1293.0,168.3 1291.8,174.4 C1290.7,180.6 1282.4,186.2 1274.9,188.6 C1267.3,191.0 1254.1,191.4 1246.5,188.6 C1239.0,185.8 1231.9,178.5 1229.6,171.6 C1227.2,164.8 1228.4,152.7 1232.4,147.6Z" fill="#a4a4a4" opacity="0.75" filter="url(#bl4)"/>
<path d="M1204.1,256.5 C1208.8,252.3 1225.3,249.0 1232.4,250.9 C1239.5,252.8 1246.5,263.0 1246.5,267.9 C1246.5,272.7 1239.5,278.6 1232.4,280.0 C1225.3,281.5 1208.8,280.3 1204.1,276.4 C1199.4,272.4 1199.4,260.8 1204.1,256.5Z" fill="#a6a6a6" opacity="0.7" filter="url(#bl4)"/>
<path d="M1168.7,346.4 C1172.9,341.7 1188.3,339.8 1192.8,343.6 C1197.2,347.4 1197.0,362.5 1195.6,369.1 C1194.2,375.7 1189.0,382.8 1184.3,383.2 C1179.5,383.7 1169.9,378.0 1167.3,371.9 C1164.7,365.8 1164.4,351.2 1168.7,346.4Z" fill="#c1c1c1" opacity="0.9" filter="url(#bl2)"/>
<path d="M1204.1,360.6 C1208.1,357.3 1221.5,354.0 1226.7,354.9 C1231.9,355.9 1236.2,362.5 1235.2,366.2 C1234.3,370.0 1226.5,376.2 1221.1,377.6 C1215.6,379.0 1205.5,377.6 1202.7,374.7 C1199.8,371.9 1200.1,363.9 1204.1,360.6Z" fill="#c3c3c3" opacity="0.9" filter="url(#bl2)"/>
<path d="M1212.6,279.9 C1215.4,278.3 1223.9,279.7 1226.7,282.7 C1229.6,285.8 1231.0,294.8 1229.6,298.3 C1228.1,301.8 1221.5,304.9 1218.2,304.0 C1214.9,303.0 1210.7,296.7 1209.7,292.6 C1208.8,288.6 1209.7,281.6 1212.6,279.9Z" fill="#b9b9b9" opacity="0.9" filter="url(#bl2)"/>
<path d="M1232.4,323.8 C1237.1,320.0 1249.8,317.7 1253.6,321.0 C1257.4,324.3 1257.4,337.9 1255.0,343.6 C1252.7,349.3 1244.4,354.9 1239.5,354.9 C1234.5,354.9 1226.5,348.8 1225.3,343.6 C1224.1,338.4 1227.7,327.6 1232.4,323.8Z" fill="#a5a5a5" opacity="0.7" filter="url(#bl4)"/>
<path d="M1153.1,312.5 C1159.3,313.2 1181.4,316.7 1189.9,316.7 C1198.4,316.7 1201.7,313.2 1204.1,312.5" fill="none" stroke="#acacac" stroke-width="4" stroke-linecap="round" stroke-linejoin="round" opacity="0.7" filter="url(#bl2)"/>
<path d="M1274.9,281.3 C1277.2,277.5 1297.3,276.6 1303.2,278.5 C1309.1,280.4 1312.6,288.9 1310.2,292.6 C1307.9,296.4 1294.9,303.0 1289.0,301.1 C1283.1,299.3 1272.5,285.1 1274.9,281.3Z" fill="#a2a2a2" opacity="0.7" filter="url(#bl4)"/>
<path d="M1245.1,157.5 C1246.8,154.2 1253.4,151.8 1257.9,151.8 C1262.3,151.8 1269.4,154.4 1272.0,157.5 C1274.6,160.5 1275.3,166.9 1273.4,170.2 C1271.5,173.5 1264.9,177.0 1260.7,177.3 C1256.5,177.5 1250.6,174.9 1248.0,171.6 C1245.4,168.3 1243.5,160.8 1245.1,157.5Z" fill="#676767" opacity="0.95" filter="url(#bl2)"/>
<path d="M1300.3,180.1 C1301.7,178.0 1307.9,179.2 1310.2,181.5 C1312.6,183.9 1314.7,190.7 1314.5,194.3 C1314.2,197.8 1310.9,202.8 1308.8,202.8 C1306.7,202.8 1303.2,198.0 1301.7,194.3 C1300.3,190.5 1298.9,182.2 1300.3,180.1Z" fill="#414141" opacity="0.9" filter="url(#bl2)"/>
<path d="M1280.5,157.5 C1282.4,156.3 1289.5,158.9 1293.3,161.7 C1297.0,164.5 1303.2,172.1 1303.2,174.4 C1303.2,176.8 1296.8,176.8 1293.3,175.9 C1289.7,174.9 1284.1,171.9 1281.9,168.8 C1279.8,165.7 1278.6,158.6 1280.5,157.5Z" fill="#5a5a5a" opacity="0.8" filter="url(#bl2)"/>
<path d="M1225.3,185.8 C1226.7,182.2 1237.3,180.1 1240.9,181.5 C1244.4,182.9 1248.0,190.7 1246.5,194.3 C1245.1,197.8 1235.9,204.2 1232.4,202.8 C1228.8,201.3 1223.9,189.3 1225.3,185.8Z" fill="#656565" opacity="0.8" filter="url(#bl4)"/>
<path d="M1131.9,231.1 C1135.7,222.4 1143.9,224.0 1147.5,228.2 C1151.0,232.5 1154.3,247.9 1153.1,256.5 C1151.9,265.2 1145.1,276.1 1140.4,280.0 C1135.7,284.0 1126.2,288.2 1124.8,280.0 C1123.4,271.9 1128.1,239.7 1131.9,231.1Z" fill="#595959" opacity="0.9" filter="url(#bl2)"/>
<path d="M1123.4,298.3 C1126.0,294.3 1135.4,294.5 1139.0,299.7 C1142.5,304.9 1141.8,320.2 1144.6,329.4 C1147.5,338.6 1154.5,347.4 1156.0,354.9 C1157.4,362.5 1155.5,372.4 1153.1,374.7 C1150.8,377.1 1145.6,374.3 1141.8,369.1 C1138.0,363.9 1133.5,351.2 1130.5,343.6 C1127.4,336.1 1124.6,331.3 1123.4,323.8 C1122.2,316.2 1120.8,302.3 1123.4,298.3Z" fill="#363636" opacity="0.95" filter="url(#bl2)"/>
<path d="M1144.6,369.1 C1148.4,368.1 1157.8,373.8 1164.4,377.6 C1171.1,381.3 1183.3,388.4 1184.3,391.7 C1185.2,395.0 1175.5,396.9 1170.1,397.4 C1164.7,397.9 1156.4,396.9 1151.7,394.6 C1147.0,392.2 1143.0,387.5 1141.8,383.2 C1140.6,379.0 1140.9,370.0 1144.6,369.1Z" fill="#3f3f3f" opacity="0.9" filter="url(#bl2)"/>
<path d="M1195.6,379.0 C1199.4,377.3 1212.6,381.6 1221.1,381.8 C1229.6,382.1 1241.4,379.2 1246.5,380.4 C1251.7,381.6 1256.9,387.0 1252.2,388.9 C1247.5,390.8 1227.2,391.3 1218.2,391.7 C1209.3,392.2 1202.2,393.8 1198.4,391.7 C1194.6,389.6 1191.8,380.6 1195.6,379.0Z" fill="#3d3d3d" opacity="0.9" filter="url(#bl2)"/>
<path d="M1262.1,318.1 C1266.4,315.1 1278.2,312.0 1283.3,312.5 C1288.5,312.9 1293.3,316.2 1293.3,321.0 C1293.3,325.7 1288.3,337.0 1283.3,340.8 C1278.4,344.5 1267.8,345.3 1263.5,343.6 C1259.3,342.0 1258.1,335.1 1257.9,330.9 C1257.6,326.6 1257.9,321.2 1262.1,318.1Z" fill="#424242" opacity="0.9" filter="url(#bl2)"/>
<path d="M1184.3,323.8 C1185.2,320.5 1198.9,320.0 1206.9,321.0 C1214.9,321.9 1229.1,325.7 1232.4,329.4 C1235.7,333.2 1231.9,341.7 1226.7,343.6 C1221.5,345.5 1208.3,344.1 1201.2,340.8 C1194.2,337.5 1183.3,327.1 1184.3,323.8Z" fill="#616161" opacity="0.75" filter="url(#bl4)"/>
<path d="M1158.8,275.7 C1162.6,271.4 1178.1,270.9 1184.3,272.8 C1190.4,274.7 1194.2,281.3 1195.6,287.0 C1197.0,292.6 1196.1,302.6 1192.8,306.8 C1189.5,311.0 1181.0,313.9 1175.8,312.5 C1170.6,311.0 1164.4,304.4 1161.6,298.3 C1158.8,292.2 1155.0,279.9 1158.8,275.7Z" fill="#616161" opacity="0.8" filter="url(#bl4)"/>
<path d="M1184.3,278.5 C1185.4,276.8 1191.1,274.7 1192.8,275.7 C1194.5,276.6 1194.9,282.0 1194.5,284.2 C1194.0,286.3 1191.3,288.2 1189.9,288.4 C1188.5,288.6 1186.9,287.2 1186.0,285.6 C1185.0,283.9 1183.1,280.1 1184.3,278.5Z" fill="#afafaf" opacity="0.9" filter="url(#bl1)"/>
<path d="M1181.4,298.3 C1182.4,296.8 1188.2,295.9 1189.9,296.9 C1191.6,297.8 1192.6,302.4 1191.6,304.0 C1190.7,305.5 1186.0,307.2 1184.3,306.2 C1182.6,305.3 1180.5,299.9 1181.4,298.3Z" fill="#b4b4b4" opacity="0.9" filter="url(#bl1)"/>
<path d="M1253.6,239.6 C1256.5,237.7 1270.1,245.7 1274.9,250.9 C1279.6,256.1 1283.1,265.8 1281.9,270.7 C1280.7,275.6 1271.8,281.5 1267.8,280.0 C1263.8,278.6 1260.2,269.0 1257.9,262.2 C1255.5,255.5 1250.8,241.4 1253.6,239.6Z" fill="#5c5c5c" opacity="0.7" filter="url(#bl4)"/>
<path d="M1195.6,198.5 C1196.8,196.6 1202.2,197.8 1204.1,199.9 C1206.0,202.0 1207.1,208.4 1206.9,211.2 C1206.7,214.1 1204.3,216.9 1202.7,216.9 C1201.0,216.9 1198.2,214.3 1197.0,211.2 C1195.8,208.2 1194.4,200.4 1195.6,198.5Z" fill="#d7d7d7" opacity="0.95" filter="url(#bl1)"/>
<path d="M1168.7,216.9 C1172.0,212.2 1178.8,207.9 1184.3,208.4 C1189.7,208.9 1197.0,215.5 1201.2,219.7 C1205.5,224.0 1209.3,229.2 1209.7,233.9 C1210.2,238.6 1207.4,244.7 1204.1,248.1 C1200.8,251.4 1195.1,253.2 1189.9,253.7 C1184.7,254.2 1177.2,253.7 1172.9,250.9 C1168.7,248.1 1165.2,242.4 1164.4,236.7 C1163.7,231.1 1165.4,221.6 1168.7,216.9Z" fill="#cccccc" opacity="0.85" filter="url(#bl2)"/>
<path d="M1209.7,171.6 C1210.4,170.7 1216.3,174.9 1218.2,177.3 C1220.1,179.6 1221.8,184.8 1221.1,185.8 C1220.4,186.7 1215.9,185.3 1214.0,182.9 C1212.1,180.6 1209.0,172.6 1209.7,171.6Z" fill="#cacaca" opacity="0.8" filter="url(#bl1)"/>
<path d="M1293.3,228.2 C1295.1,223.3 1300.6,220.7 1306.0,218.3 C1311.4,216.0 1320.1,213.8 1325.8,214.1 C1331.5,214.3 1336.7,216.7 1340.0,219.7 C1343.3,222.8 1344.9,228.0 1345.6,232.5 C1346.3,237.0 1346.1,241.9 1344.2,246.6 C1342.3,251.4 1338.3,257.3 1334.3,260.8 C1330.3,264.3 1325.3,267.6 1320.1,267.9 C1315.0,268.1 1307.4,265.5 1303.2,262.2 C1298.9,258.9 1296.3,253.7 1294.7,248.1 C1293.0,242.4 1291.4,233.2 1293.3,228.2Z" fill="#adadad" opacity="1" filter="url(#bl2)"/>
<path d="M1298.9,233.9 C1300.1,229.4 1304.8,226.1 1308.8,224.0 C1312.8,221.9 1322.0,219.7 1323.0,221.2 C1323.9,222.6 1316.1,228.2 1314.5,232.5 C1312.8,236.7 1311.7,242.4 1313.1,246.6 C1314.5,250.9 1323.0,255.6 1323.0,258.0 C1323.0,260.3 1316.6,262.0 1313.1,260.8 C1309.5,259.6 1304.1,255.4 1301.7,250.9 C1299.4,246.4 1297.7,238.4 1298.9,233.9Z" fill="#cdcdcd" opacity="0.95" filter="url(#bl2)"/>
<path d="M1314.5,228.2 C1317.0,225.5 1323.2,223.0 1327.2,223.3 C1331.2,223.5 1336.2,226.7 1338.5,229.6 C1340.9,232.6 1341.8,237.4 1341.4,241.0 C1340.9,244.5 1338.3,248.6 1335.7,250.9 C1333.1,253.1 1329.1,254.7 1325.8,254.4 C1322.5,254.2 1318.1,251.9 1315.9,249.5 C1313.7,247.0 1312.6,243.1 1312.4,239.6 C1312.1,236.0 1312.0,230.9 1314.5,228.2Z" fill="#767676" opacity="1" filter="url(#bl1)"/>
<path d="M1317.3,235.3 C1318.1,233.0 1320.6,231.2 1323.0,230.4 C1325.3,229.5 1329.1,229.3 1331.5,230.4 C1333.8,231.4 1336.2,234.4 1337.1,236.7 C1338.0,239.1 1337.8,242.4 1336.8,244.5 C1335.9,246.6 1333.7,248.6 1331.5,249.5 C1329.3,250.3 1325.9,250.3 1323.7,249.5 C1321.4,248.6 1319.1,246.9 1318.0,244.5 C1317.0,242.2 1316.5,237.7 1317.3,235.3Z" fill="#272727" opacity="1" filter="url(#bl1)"/>
<path d="M1325.8,205.6 C1327.7,206.5 1334.1,208.8 1337.1,211.2 C1340.2,213.7 1342.5,217.3 1344.2,220.4 C1345.9,223.6 1346.9,227.1 1347.3,230.4 C1347.7,233.7 1347.2,237.1 1346.5,240.3 C1345.7,243.5 1344.3,246.5 1342.8,249.5 C1341.2,252.4 1339.3,255.4 1337.1,258.0 C1335.0,260.6 1332.4,262.7 1330.1,265.0 C1327.7,267.4 1324.2,270.9 1323.0,272.1" fill="none" stroke="#b9b9b9" stroke-width="1.6" stroke-linecap="round" stroke-linejoin="round" opacity="0.95" filter="url(#bl1)"/>
<path d="M1272.0,131.3 C1272.8,132.5 1275.1,135.8 1277.0,138.4 C1278.9,140.9 1280.6,144.3 1283.3,146.8 C1286.1,149.4 1289.9,151.3 1293.3,153.9 C1296.6,156.5 1299.9,159.4 1303.2,162.4 C1306.5,165.5 1310.0,169.6 1313.1,172.3 C1316.1,175.0 1319.1,177.0 1321.6,178.7 C1324.0,180.3 1326.6,180.6 1327.9,182.2 C1329.2,183.9 1329.6,186.1 1329.3,188.6 C1329.1,191.1 1327.0,195.7 1326.5,197.1" fill="none" stroke="#bdbdbd" stroke-width="2.2" stroke-linecap="round" stroke-linejoin="round" opacity="0.9" filter="url(#bl1)"/>
<path d="M1330.1,278.5 C1329.0,279.7 1325.5,282.3 1323.7,285.6 C1321.9,288.9 1321.3,293.6 1319.4,298.3 C1317.6,303.0 1315.0,308.6 1312.4,313.9 C1309.8,319.2 1305.9,326.6 1303.9,330.2 C1301.9,333.7 1302.8,334.1 1300.3,335.4 C1297.9,336.6 1293.4,335.5 1289.0,337.7 C1284.6,339.9 1278.6,344.6 1274.1,348.6 C1269.7,352.5 1265.2,357.5 1262.4,361.3 C1259.6,365.1 1258.0,369.6 1257.2,371.2" fill="none" stroke="#cacaca" stroke-width="4.2" stroke-linecap="round" stroke-linejoin="round" opacity="0.95" filter="url(#bl1)"/>
<path d="M1327.2,282.0 C1326.1,284.7 1322.8,292.8 1320.4,298.3 C1318.1,303.9 1315.9,309.6 1313.1,315.3 C1310.2,321.0 1307.2,328.0 1303.2,332.3 C1299.1,336.5 1293.5,337.6 1289.0,340.8 C1284.5,344.0 1280.2,347.6 1276.3,351.4 C1272.4,355.2 1267.4,361.4 1265.7,363.4" fill="none" stroke="#6d6d6d" stroke-width="1.1" stroke-linecap="round" stroke-linejoin="round" opacity="0.8" filter="url(#bl1)"/>
<path d="M1115.6,272.8 C1116.3,273.8 1118.4,274.7 1119.9,278.5 C1121.3,282.3 1123.8,289.8 1124.1,295.5 C1124.4,301.1 1121.9,306.3 1121.7,312.5 C1121.5,318.6 1123.0,326.1 1123.1,332.3 C1123.2,338.4 1121.7,344.5 1122.4,349.3 C1123.1,354.0 1125.8,355.9 1127.4,360.6 C1128.9,365.3 1130.1,372.1 1131.6,377.6 C1133.1,383.0 1135.9,388.4 1136.4,393.1 C1137.0,397.9 1135.2,403.8 1135.0,405.9" fill="none" stroke="#bbbbbb" stroke-width="3.4" stroke-linecap="round" stroke-linejoin="round" opacity="0.95" filter="url(#bl1)"/>
<path d="M1126.2,281.3 C1126.6,286.5 1127.9,302.1 1128.4,312.5 C1128.8,322.8 1127.9,334.2 1129.1,343.6 C1130.2,353.0 1133.5,361.1 1135.4,369.1 C1137.3,377.1 1139.6,388.0 1140.4,391.7" fill="none" stroke="#6d6d6d" stroke-width="1.1" stroke-linecap="round" stroke-linejoin="round" opacity="0.7" filter="url(#bl1)"/>
<path d="M1260.7,380.4 C1261.9,379.7 1267.5,382.8 1272.0,383.2 C1276.5,383.7 1282.9,383.8 1287.6,383.2 C1292.3,382.6 1297.7,379.7 1300.3,379.7 C1302.9,379.7 1304.3,381.9 1303.2,383.2 C1302.0,384.5 1296.6,386.5 1293.3,387.5 C1289.9,388.4 1285.5,387.2 1283.3,388.9 C1281.2,390.5 1280.6,394.1 1280.5,397.4 C1280.4,400.7 1281.8,405.6 1282.6,408.7 C1283.5,411.8 1285.1,413.4 1285.5,415.8 C1285.8,418.1 1285.6,420.5 1284.8,422.9 C1283.9,425.2 1281.8,429.5 1280.5,429.9 C1279.2,430.4 1278.3,427.3 1277.0,425.7 C1275.7,424.0 1273.4,422.4 1272.7,420.0 C1272.0,417.7 1272.5,414.6 1272.7,411.5 C1273.0,408.5 1274.4,404.9 1274.1,401.6 C1273.9,398.3 1272.8,394.1 1271.3,391.7 C1269.8,389.4 1266.7,389.4 1264.9,387.5 C1263.2,385.6 1259.5,381.1 1260.7,380.4Z" fill="#b0b0b0" opacity="0.9" filter="url(#bl1)"/>
<path d="M1274.9,413.0 C1275.7,411.4 1280.6,411.8 1281.9,413.0 C1283.3,414.1 1283.9,418.5 1283.1,420.0 C1282.2,421.6 1278.3,423.3 1277.0,422.2 C1275.6,421.0 1274.0,414.5 1274.9,413.0Z" fill="#838383" opacity="0.9" filter="url(#bl1)"/>
<path d="M1277.0,424.3 C1277.5,423.1 1283.0,422.5 1283.6,423.6 C1284.2,424.6 1281.6,430.5 1280.5,430.7 C1279.4,430.8 1276.5,425.5 1277.0,424.3Z" fill="#d7d7d7" opacity="0.95" filter="url(#bl1)"/>
<path d="M1133.3,415.8 C1131.9,414.6 1134.5,407.8 1137.6,405.9 C1140.6,404.0 1147.2,405.2 1151.7,404.5 C1156.2,403.8 1160.0,401.4 1164.4,401.6 C1168.9,401.9 1177.2,402.7 1178.6,405.9 C1180.0,409.1 1175.5,419.2 1172.9,420.9 C1170.3,422.5 1165.6,416.4 1163.0,415.8 C1160.4,415.2 1160.2,417.9 1157.4,417.5 C1154.5,417.1 1150.1,413.5 1146.0,413.2 C1142.0,413.0 1134.7,417.0 1133.3,415.8Z" fill="#b5b5b5" opacity="0.85" filter="url(#bl1)"/>
<path d="M1163.0,403.1 C1163.7,401.9 1170.8,403.1 1171.5,404.5 C1172.2,405.9 1168.7,411.8 1167.3,411.5 C1165.9,411.3 1162.3,404.2 1163.0,403.1Z" fill="#d7d7d7" opacity="0.9" filter="url(#bl1)"/>
<path d="M1317.3,235.3 C1318.1,233.0 1320.6,231.2 1323.0,230.4 C1325.3,229.5 1329.1,229.3 1331.5,230.4 C1333.8,231.4 1336.2,234.4 1337.1,236.7 C1338.0,239.1 1337.8,242.4 1336.8,244.5 C1335.9,246.6 1333.7,248.6 1331.5,249.5 C1329.3,250.3 1325.9,250.3 1323.7,249.5 C1321.4,248.6 1319.1,246.9 1318.0,244.5 C1317.0,242.2 1316.5,237.7 1317.3,235.3Z" fill="#000000" opacity="1" filter="url(#bl1)"/>
<path d="M1259.3,120.7 C1263.3,120.3 1265.7,121.8 1267.8,123.5 C1269.9,125.1 1270.5,128.2 1272.0,130.6 C1273.6,132.9 1275.1,135.1 1277.0,137.6 C1278.9,140.2 1280.6,143.5 1283.3,146.1 C1286.1,148.7 1289.9,150.6 1293.3,153.2 C1296.6,155.8 1299.9,158.6 1303.2,161.7 C1306.5,164.8 1310.0,168.9 1313.1,171.6 C1316.1,174.3 1319.0,176.3 1321.6,178.0 C1324.2,179.6 1327.2,179.8 1328.6,181.5 C1330.1,183.3 1330.5,186.0 1330.3,188.6 C1330.1,191.2 1328.3,194.7 1327.5,197.1 C1326.8,199.5 1325.1,201.4 1325.8,203.0 C1326.5,204.7 1329.1,205.4 1331.5,207.0 C1333.8,208.6 1337.6,210.5 1340.0,212.7 C1342.4,214.8 1344.3,217.2 1345.9,220.0 C1347.5,222.9 1348.8,226.4 1349.3,229.6 C1349.8,232.9 1349.4,236.3 1348.7,239.6 C1348.1,242.9 1346.6,246.4 1345.2,249.5 C1343.8,252.5 1342.0,255.4 1340.2,258.0 C1338.5,260.6 1336.4,261.8 1334.6,265.0 C1332.8,268.2 1330.8,274.2 1329.3,277.1 C1327.9,279.9 1327.1,279.0 1325.8,282.0 C1324.5,285.1 1323.4,290.4 1321.6,295.5 C1319.7,300.5 1317.1,306.8 1314.5,312.5 C1311.9,318.1 1308.2,325.5 1306.0,329.4 C1303.7,333.4 1303.9,334.8 1301.0,336.2 C1298.2,337.7 1293.4,336.1 1289.0,338.2 C1284.6,340.4 1279.1,345.3 1274.9,349.3 C1270.6,353.2 1266.3,358.2 1263.5,362.0 C1260.7,365.8 1258.6,368.8 1258.1,371.9 C1257.7,375.0 1258.4,378.5 1260.7,380.4 C1263.0,382.3 1267.5,382.8 1272.0,383.2 C1276.5,383.7 1282.9,383.9 1287.6,383.2 C1292.3,382.6 1297.7,379.3 1300.3,379.3 C1303.0,379.3 1304.6,381.8 1303.4,383.2 C1302.3,384.6 1296.6,386.8 1293.3,387.8 C1289.9,388.8 1285.7,387.6 1283.6,389.2 C1281.6,390.8 1280.9,394.1 1280.8,397.4 C1280.7,400.6 1282.0,405.6 1282.8,408.7 C1283.6,411.8 1285.3,413.3 1285.6,415.8 C1285.9,418.3 1285.6,421.1 1284.8,423.6 C1283.9,426.1 1281.9,430.3 1280.5,430.7 C1279.2,431.0 1278.0,427.5 1276.7,425.7 C1275.4,423.9 1273.4,422.4 1272.7,420.0 C1272.0,417.7 1272.4,414.6 1272.6,411.5 C1272.8,408.5 1274.4,404.9 1274.1,401.6 C1273.9,398.4 1272.8,394.3 1271.3,392.0 C1269.8,389.7 1268.1,388.0 1264.9,387.8 C1261.8,387.5 1257.6,390.4 1252.2,390.6 C1246.8,390.8 1238.5,388.7 1232.4,389.2 C1226.3,389.7 1220.6,392.5 1215.4,393.4 C1210.2,394.4 1205.7,394.1 1201.2,394.8 C1196.8,395.5 1191.8,395.8 1188.5,397.7 C1185.2,399.5 1183.3,402.6 1181.4,405.9 C1179.6,409.1 1178.9,414.7 1177.5,417.2 C1176.1,419.7 1174.3,420.9 1172.9,420.9 C1171.6,420.9 1170.3,419.0 1169.4,417.2 C1168.5,415.5 1168.3,410.6 1167.3,410.4 C1166.2,410.2 1164.7,414.6 1163.0,415.8 C1161.4,417.0 1159.0,418.1 1157.4,417.5 C1155.7,416.8 1155.0,412.5 1153.1,411.8 C1151.2,411.1 1148.6,413.2 1146.0,413.2 C1143.5,413.2 1140.0,411.4 1137.8,411.8 C1135.7,412.3 1133.9,417.1 1133.3,416.1 C1132.7,415.1 1133.7,409.7 1134.0,405.9 C1134.4,402.1 1136.0,397.9 1135.4,393.1 C1134.8,388.4 1132.0,383.0 1130.5,377.6 C1128.9,372.1 1127.8,365.3 1126.2,360.6 C1124.7,355.9 1122.0,354.0 1121.3,349.3 C1120.6,344.5 1122.1,338.4 1122.0,332.3 C1121.9,326.1 1120.3,318.6 1120.6,312.5 C1120.8,306.3 1123.6,301.1 1123.4,295.5 C1123.2,289.8 1120.7,282.3 1119.2,278.5 C1117.6,274.7 1114.8,275.1 1114.2,272.8 C1113.6,270.6 1114.9,269.2 1115.6,265.0 C1116.3,260.9 1117.1,253.7 1118.4,248.1 C1119.7,242.4 1121.4,236.7 1123.4,231.1 C1125.4,225.4 1127.9,219.5 1130.5,214.1 C1133.1,208.7 1135.7,203.7 1139.0,198.5 C1142.3,193.3 1145.8,187.9 1150.3,182.9 C1154.8,178.0 1160.2,173.5 1165.9,168.8 C1171.5,164.1 1177.9,159.1 1184.3,154.6 C1190.6,150.1 1197.2,145.7 1204.1,141.9 C1210.9,138.1 1218.7,134.7 1225.3,132.0 C1231.9,129.3 1238.1,127.5 1243.7,125.6 C1249.4,123.7 1255.3,121.0 1259.3,120.7Z" fill="none" stroke="#b9b9b9" stroke-width="3.2" filter="url(#bl1)"/>
<path d="M1260.7,119.2 C1256.5,119.1 1249.6,122.9 1243.7,124.9 C1237.8,126.9 1231.9,128.6 1225.3,131.3 C1218.7,134.0 1210.9,137.4 1204.1,141.2 C1197.2,145.0 1190.6,149.4 1184.3,153.9 C1177.9,158.4 1171.5,163.4 1165.9,168.1 C1160.2,172.8 1154.8,177.3 1150.3,182.2 C1145.8,187.2 1142.3,192.6 1139.0,197.8 C1135.7,203.0 1133.1,207.9 1130.5,213.4 C1127.9,218.8 1125.4,224.7 1123.4,230.4 C1121.4,236.0 1119.8,241.6 1118.4,247.3 C1117.1,253.1 1116.0,259.6 1115.2,265.0 C1114.4,270.5 1112.0,277.5 1113.5,280.0 C1115.0,282.5 1122.0,282.1 1124.1,280.0 C1126.2,278.0 1124.9,272.0 1126.2,267.9 C1127.5,263.7 1129.8,259.5 1131.9,255.1 C1134.0,250.8 1136.5,246.4 1139.0,241.7 C1141.4,237.0 1144.2,231.8 1146.8,226.8 C1149.4,221.9 1151.6,217.3 1154.5,212.0 C1157.5,206.6 1160.9,200.4 1164.4,195.0 C1168.0,189.5 1171.5,184.1 1175.8,179.4 C1180.0,174.7 1185.2,170.6 1189.9,166.7 C1194.6,162.7 1198.9,159.1 1204.1,155.6 C1209.3,152.1 1215.2,148.8 1221.1,145.7 C1227.0,142.6 1233.3,139.6 1239.5,137.2 C1245.6,134.8 1252.9,133.1 1257.9,131.3 C1262.8,129.4 1268.7,128.0 1269.2,126.0 C1269.7,124.0 1264.9,119.4 1260.7,119.2Z" fill="#ffffff" opacity="1" filter="url(#bl1)"/>
<path d="M1123.4,280.0 C1123.9,278.0 1124.8,272.0 1126.2,267.9 C1127.6,263.7 1129.8,259.5 1131.9,255.1 C1134.0,250.8 1136.5,246.4 1139.0,241.7 C1141.4,237.0 1144.2,231.8 1146.8,226.8 C1149.4,221.9 1151.6,217.3 1154.5,212.0 C1157.5,206.6 1160.9,200.4 1164.4,195.0 C1168.0,189.5 1171.5,184.1 1175.8,179.4 C1180.0,174.7 1185.2,170.6 1189.9,166.7 C1194.6,162.7 1198.9,159.1 1204.1,155.6 C1209.3,152.1 1215.2,148.8 1221.1,145.7 C1227.0,142.6 1233.3,139.6 1239.5,137.2 C1245.6,134.8 1254.8,132.3 1257.9,131.3" fill="none" stroke="#757575" stroke-width="1.6" stroke-linecap="round" stroke-linejoin="round" opacity="0.55" filter="url(#bl1)"/>
</g></g>
<g filter="url(#virH)">
<path d="M536.5,189.6 C537.0,187.5 537.6,180.9 539.5,176.8 C541.3,172.7 544.1,168.6 547.3,165.0 C550.6,161.3 554.9,157.8 559.2,155.1 C563.5,152.4 568.4,150.1 573.0,148.6 C577.6,147.1 581.9,146.2 586.8,146.2 C591.7,146.2 597.3,147.4 602.6,148.6 C607.8,149.8 612.4,151.4 618.4,153.5 C624.3,155.7 631.5,158.8 638.1,161.4 C644.7,164.0 651.2,166.3 657.8,169.3 C664.4,172.3 671.0,175.6 677.5,179.2 C684.1,182.8 691.4,187.1 697.3,191.0 C703.2,195.0 708.5,198.6 713.1,202.8 C717.7,207.1 721.3,211.7 724.9,216.7 C728.5,221.6 731.9,227.2 734.8,232.4 C737.7,237.6 741.0,245.3 742.3,247.8" fill="none" stroke="#a7a7a7" stroke-width="7.2" stroke-linecap="round" stroke-linejoin="round"/>
<path d="M742.3,247.8 C742.9,250.5 745.4,259.0 746.2,263.6 C747.0,268.2 747.6,272.1 747.0,275.4 C746.4,278.8 744.9,281.8 742.7,283.7 C740.4,285.7 737.1,287.3 733.8,287.3 C730.5,287.3 724.7,284.3 722.9,283.7" fill="none" stroke="#838383" stroke-width="9.5" stroke-linecap="round" stroke-linejoin="round"/>
<path d="M722.9,284.3 C720.6,282.9 714.0,279.2 709.1,275.8 C704.2,272.5 698.6,268.2 693.3,264.4 C688.1,260.6 682.5,256.2 677.5,253.0 C672.6,249.7 666.0,246.4 663.7,245.1" fill="none" stroke="#a7a7a7" stroke-width="8.2" stroke-linecap="round" stroke-linejoin="round"/>
<path d="M665.7,241.7 L662.0,248.4 L648.4,238.7Z" fill="#a7a7a7"/>
<path d="M559.2,221.8 C561.8,220.5 569.0,215.8 575.0,213.9 C580.9,212.0 588.1,210.6 594.7,210.3 C601.3,210.1 607.8,211.1 614.4,212.3 C621.0,213.6 627.9,215.6 634.1,217.8 C640.4,220.1 648.9,224.4 651.9,225.7" fill="none" stroke="#a7a7a7" stroke-width="6.6" stroke-linecap="round" stroke-linejoin="round"/>
<path d="M559.2,226.1 C560.5,226.1 562.8,225.9 567.1,226.1 C571.3,226.4 578.9,226.9 584.8,227.5 C590.7,228.1 597.3,228.6 602.6,229.7 C607.8,230.8 614.1,233.3 616.4,234.0" fill="none" stroke="#a7a7a7" stroke-width="5.2" stroke-linecap="round" stroke-linejoin="round"/>
<path d="M613.4,230.5 L618.4,237.6 L632.6,243.5 L626.3,235.0Z" fill="#a7a7a7"/>
<ellipse cx="559.2" cy="224.5" rx="7.5" ry="6" fill="#5f5f5f"/>
</g>
<g clip-path="url(#eyeclip)"><g filter="url(#virY)">
<rect x="1490" y="100" width="185" height="190" fill="#b5b5b5"/>
<path d="M1531.7,127.2 C1534.8,122.1 1548.1,116.5 1558.1,114.0 C1568.2,111.4 1585.8,108.3 1592.1,112.1 C1598.4,115.8 1600.3,131.3 1595.8,136.6 C1591.4,141.9 1575.1,142.9 1565.7,144.2 C1556.2,145.4 1544.9,147.0 1539.2,144.2 C1533.6,141.3 1528.6,132.2 1531.7,127.2Z" fill="#9e9e9e" opacity="0.9" filter="url(#bl4)"/>
<path d="M1531.7,261.1 C1534.2,256.7 1555.0,257.4 1565.7,257.4 C1576.4,257.4 1591.4,257.0 1595.8,261.1 C1600.3,265.2 1599.6,278.1 1592.1,281.9 C1584.5,285.7 1560.6,287.2 1550.6,283.8 C1540.5,280.3 1529.2,265.5 1531.7,261.1Z" fill="#979797" opacity="0.9" filter="url(#bl4)"/>
<path d="M1499.6,212.1 C1501.2,208.0 1511.9,209.6 1516.6,215.8 C1521.3,222.1 1527.3,242.3 1527.9,249.8 C1528.6,257.4 1523.8,262.7 1520.4,261.1 C1516.9,259.6 1510.6,248.6 1507.2,240.4 C1503.7,232.2 1498.1,216.2 1499.6,212.1Z" fill="#a6a6a6" opacity="0.8" filter="url(#bl4)"/>
<path d="M1614.7,234.7 C1616.0,230.3 1629.2,224.0 1633.6,223.4 C1638.0,222.8 1642.4,226.5 1641.1,230.9 C1639.9,235.3 1630.4,249.2 1626.0,249.8 C1621.6,250.4 1613.5,239.1 1614.7,234.7Z" fill="#a0a0a0" opacity="0.7" filter="url(#bl4)"/>
<path d="M1614.7,111.1 C1618.8,113.2 1633.3,119.2 1639.2,123.4 C1645.2,127.6 1647.4,131.3 1650.6,136.6 C1653.7,141.9 1656.1,149.2 1658.1,155.5 C1660.2,161.8 1661.6,168.1 1662.8,174.3 C1664.1,180.6 1665.7,186.9 1665.7,193.2 C1665.7,199.5 1664.7,205.8 1662.8,212.1 C1660.9,218.4 1658.0,224.7 1654.3,230.9 C1650.7,237.2 1645.8,244.2 1641.1,249.8 C1636.4,255.5 1628.6,262.4 1626.0,264.9" fill="none" stroke="#a6a6a6" stroke-width="6" stroke-linecap="round" opacity="1" filter="url(#bl1)"/>
<path d="M1595.8,113.6 C1599.9,114.7 1613.1,116.4 1620.4,120.0 C1627.6,123.6 1634.3,128.6 1639.2,135.1 C1644.2,141.6 1647.4,149.6 1650.2,159.2 C1653.0,168.9 1656.5,183.8 1656.2,193.2 C1656.0,202.6 1651.8,208.6 1648.7,215.8 C1645.5,223.1 1641.8,230.3 1637.4,236.6 C1633.0,242.9 1627.9,248.6 1622.3,253.6 C1616.6,258.6 1606.5,264.6 1603.4,266.8" fill="none" stroke="#ffffff" stroke-width="6.5" stroke-linecap="round" opacity="1" filter="url(#bl1)"/>
<path d="M1562.8,182.8 C1561.6,185.8 1554.8,194.0 1555.3,200.8 C1555.8,207.5 1561.4,216.8 1565.7,223.4 C1569.9,230.0 1575.7,236.0 1580.8,240.4 C1585.8,244.8 1593.3,248.2 1595.8,249.8" fill="none" stroke="#d7d7d7" stroke-width="6" stroke-linecap="round" opacity="0.95" filter="url(#bl1)"/>
<path d="M1531.7,236.6 C1533.6,239.1 1537.4,248.4 1543.0,251.7 C1548.7,255.0 1561.9,255.6 1565.7,256.4" fill="none" stroke="#d2d2d2" stroke-width="5" stroke-linecap="round" opacity="0.8" filter="url(#bl2)"/>
<path d="M1610.9,163.0 C1612.8,164.0 1621.0,166.2 1622.3,168.7 C1623.5,171.2 1619.1,176.5 1618.5,178.1" fill="none" stroke="#d2d2d2" stroke-width="4" stroke-linecap="round" opacity="0.7" filter="url(#bl2)"/>
<path d="M1565.7,189.4 C1567.5,184.4 1574.5,180.6 1580.8,178.1 C1587.0,175.6 1596.8,173.7 1603.4,174.3 C1610.0,175.0 1616.6,177.5 1620.4,181.9 C1624.2,186.3 1626.0,194.8 1626.0,200.8 C1626.0,206.7 1624.2,213.5 1620.4,217.7 C1616.6,222.0 1609.4,225.6 1603.4,226.2 C1597.4,226.9 1590.2,224.5 1584.5,221.5 C1578.9,218.5 1572.6,213.6 1569.4,208.3 C1566.3,203.0 1563.8,194.5 1565.7,189.4Z" fill="#5f5f5f" opacity="1" filter="url(#bl1)"/>
<path d="M1584.5,185.7 C1588.0,181.6 1597.7,178.1 1603.4,178.1 C1609.1,178.1 1615.3,181.9 1618.5,185.7 C1621.7,189.4 1622.8,195.7 1622.6,200.8 C1622.5,205.8 1620.8,212.2 1617.5,215.8 C1614.3,219.5 1608.0,222.1 1603.4,222.5 C1598.8,222.8 1593.6,221.0 1590.2,217.7 C1586.7,214.4 1583.6,208.0 1582.6,202.6 C1581.7,197.3 1581.1,189.7 1584.5,185.7Z" fill="#313131" opacity="1" filter="url(#bl1)"/>
</g></g>
<text transform="translate(54.1 77.7) scale(1.04 1)" x="0" y="0" font-size="36" font-weight="bold" fill="#000" stroke="#000" stroke-width="1.5" stroke-linejoin="round">a</text>
<text transform="translate(365.5 327.2) scale(1.09 1)" x="0" y="0" font-size="36.5" font-weight="bold" fill="#000" stroke="#000" stroke-width="1.5" stroke-linejoin="round">b</text>
<text transform="translate(1335.0 327.6) scale(1.13 1)" x="0" y="0" font-size="35" font-weight="bold" fill="#000" stroke="#000" stroke-width="1.5" stroke-linejoin="round">c</text>
<text transform="translate(53.3 784.8) scale(1.12 1)" x="0" y="0" font-size="37" font-weight="bold" fill="#000" stroke="#000" stroke-width="1.5" stroke-linejoin="round">d</text>
<text transform="translate(1117.6 785.2) scale(1.24 1)" x="0" y="0" font-size="35" font-weight="bold" fill="#000" stroke="#000" stroke-width="1.5" stroke-linejoin="round">e</text>
<text x="253.2" y="89.7" font-size="27" textLength="263.3" lengthAdjust="spacingAndGlyphs" fill="#111">Mouse hippocampus</text>
<text x="1305.0" y="89.7" font-size="27" textLength="207.0" lengthAdjust="spacingAndGlyphs" fill="#111">Mouse E12.5 eye</text>
<line x1="195.0" y1="199.4" x2="575.9" y2="136.6" stroke="#000" stroke-width="2.7" stroke-dasharray="9 7.65"/>
<line x1="278.2" y1="271.4" x2="531.7" y2="276.1" stroke="#000" stroke-width="2.7" stroke-dasharray="9 7.65"/>
<line x1="1330.2" y1="207.6" x2="1484.2" y2="125.3" stroke="#000" stroke-width="2.7" stroke-dasharray="9 7.65"/>
<line x1="1322.0" y1="263.8" x2="1480.1" y2="261.0" stroke="#000" stroke-width="2.7" stroke-dasharray="9 7.65"/>
<rect x="527.6" y="321.0" width="264.9" height="287.6" fill="none" stroke="#2a2a2a" stroke-width="1.25"/>
<line x1="563.3" y1="608.6" x2="563.3" y2="321.0" stroke="#555" stroke-width="2.0" stroke-dasharray="12 6.9"/>
<path d="M539.8,594.7 C540.9,593.7 543.4,590.6 546.4,588.7 C549.4,586.8 553.6,584.9 557.7,583.4 C561.9,581.9 567.7,580.8 571.3,579.8" fill="none" stroke="#9A6468" stroke-width="2.1" stroke-linecap="butt" stroke-linejoin="round"/>
<path d="M539.8,594.7 C542.2,587.4 550.0,560.0 554.0,550.9 C557.9,541.9 560.0,544.1 563.4,540.6 L576.6,529.2 L589.8,519.4" fill="none" stroke="#6F84B3" stroke-width="2.1" stroke-linecap="butt" stroke-linejoin="round"/>
<path d="M539.8,594.7 C541.2,589.0 544.4,571.8 548.3,560.4 C552.2,549.0 558.5,536.5 563.4,526.4 L576.6,511.3 L592.1,498.5" fill="none" stroke="#6F84B3" stroke-width="2.1" stroke-linecap="butt" stroke-linejoin="round"/>
<path d="M539.8,594.7 C541.2,588.8 544.4,571.1 548.3,559.4 C552.2,547.7 558.0,535.6 563.4,524.5 L584.2,498.1 L605.8,478.3 L627.5,464.2" fill="none" stroke="#9D88C4" stroke-width="2.2" stroke-linecap="butt" stroke-linejoin="round"/>
<path d="M539.8,594.7 C541.2,588.7 544.4,570.8 548.3,558.5 C552.2,546.2 557.2,533.6 563.4,520.8 L595.5,479.2 L633.2,445.3 L680.4,413.9 L727.2,388.4" fill="none" stroke="#3DAD97" stroke-width="2.1" stroke-linecap="butt" stroke-linejoin="round"/>
<path d="M539.8,594.7 C541.2,588.5 544.4,570.5 548.3,557.5 C552.2,544.6 558.1,529.8 563.4,517.0 L582.3,486.8 L602.5,469.8" fill="none" stroke="#DC7F88" stroke-width="2.1" stroke-linecap="butt" stroke-linejoin="round"/>
<path d="M539.8,594.7 C541.2,588.4 544.4,570.3 548.3,557.0 C552.2,543.7 557.9,528.7 563.4,515.1 L586.0,479.2 L606.4,466.0" fill="none" stroke="#99CFC1" stroke-width="2.1" stroke-linecap="butt" stroke-linejoin="round"/>
<path d="M539.8,594.7 C541.2,588.4 544.4,570.2 548.3,556.6 C552.2,543.0 557.9,527.2 563.4,513.2 L586.0,477.4 L610.6,447.2 L659.6,404.2 L719.8,365.3 L780.0,334.0" fill="none" stroke="#3DAD97" stroke-width="2.1" stroke-linecap="butt" stroke-linejoin="round"/>
<path d="M539.8,594.7 C541.2,588.4 544.4,570.1 548.3,556.6 C552.2,543.1 557.9,527.4 563.4,513.6 L586.0,477.7 L618.1,450.0 L644.5,436.8" fill="none" stroke="#4AC3DF" stroke-width="2.2" stroke-linecap="butt" stroke-linejoin="round"/>
<path d="M539.8,594.7 C541.2,588.3 544.4,569.9 548.3,556.2 C552.2,542.6 557.9,526.8 563.4,512.8 L586.0,477.0 L618.1,447.2 L648.7,431.1" fill="none" stroke="#4AC3DF" stroke-width="2.2" stroke-linecap="butt" stroke-linejoin="round"/>
<path d="M539.8,593.4 L562.5,503.8" stroke="#F0AB9E" stroke-width="1.9" fill="none"/>
<line x1="517.6" y1="330.0" x2="527.6" y2="330.0" stroke="#222" stroke-width="1.2"/>
<text x="506.1" y="323.8" font-size="15.6" text-anchor="end" fill="#111">7</text><text x="498.5" y="337.0" font-size="24" text-anchor="end" textLength="82.2" lengthAdjust="spacingAndGlyphs" fill="#111">1.0 × 10</text>
<line x1="517.6" y1="397.6" x2="527.6" y2="397.6" stroke="#222" stroke-width="1.2"/>
<text x="506.1" y="391.4" font-size="15.6" text-anchor="end" fill="#111">6</text><text x="497.2" y="404.6" font-size="24" text-anchor="end" textLength="83.8" lengthAdjust="spacingAndGlyphs" fill="#111">7.5 × 10</text>
<line x1="517.6" y1="465.2" x2="527.6" y2="465.2" stroke="#222" stroke-width="1.2"/>
<text x="506.1" y="459.1" font-size="15.6" text-anchor="end" fill="#111">6</text><text x="497.2" y="472.2" font-size="24" text-anchor="end" textLength="83.8" lengthAdjust="spacingAndGlyphs" fill="#111">5.0 × 10</text>
<line x1="517.6" y1="532.9" x2="527.6" y2="532.9" stroke="#222" stroke-width="1.2"/>
<text x="506.1" y="526.7" font-size="15.6" text-anchor="end" fill="#111">6</text><text x="497.2" y="539.9" font-size="24" text-anchor="end" textLength="83.8" lengthAdjust="spacingAndGlyphs" fill="#111">2.5 × 10</text>
<line x1="517.6" y1="600.5" x2="527.6" y2="600.5" stroke="#222" stroke-width="1.2"/>
<text x="504.6" y="607.7" font-size="24" text-anchor="end" fill="#111">0</text>
<text x="390.6" y="465.3" font-size="27" text-anchor="middle" textLength="156.5" lengthAdjust="spacingAndGlyphs" transform="rotate(-90 390.6 465.3)" fill="#111">Total counts</text>
<line x1="538.3" y1="608.6" x2="538.3" y2="618.8" stroke="#222" stroke-width="1.2"/>
<text transform="translate(538.6 641.5) rotate(-45)" x="0" y="8.3" font-size="24" text-anchor="middle" fill="#111">0</text>
<line x1="588.8" y1="608.6" x2="588.8" y2="618.8" stroke="#222" stroke-width="1.2"/>
<g transform="rotate(-45 601.5 643.8)"><text x="602.2" y="630.6" font-size="15.6" text-anchor="end" fill="#111">7</text><text x="594.6" y="643.8" font-size="24" text-anchor="end" textLength="82.2" lengthAdjust="spacingAndGlyphs" fill="#111">1.0 × 10</text></g>
<line x1="639.3" y1="608.6" x2="639.3" y2="618.8" stroke="#222" stroke-width="1.2"/>
<g transform="rotate(-45 652.0 643.8)"><text x="652.7" y="630.6" font-size="15.6" text-anchor="end" fill="#111">7</text><text x="645.1" y="643.8" font-size="24" text-anchor="end" textLength="83.8" lengthAdjust="spacingAndGlyphs" fill="#111">2.0 × 10</text></g>
<line x1="689.8" y1="608.6" x2="689.8" y2="618.8" stroke="#222" stroke-width="1.2"/>
<g transform="rotate(-45 702.5 643.8)"><text x="703.2" y="630.6" font-size="15.6" text-anchor="end" fill="#111">7</text><text x="695.6" y="643.8" font-size="24" text-anchor="end" textLength="83.8" lengthAdjust="spacingAndGlyphs" fill="#111">3.0 × 10</text></g>
<line x1="740.3" y1="608.6" x2="740.3" y2="618.8" stroke="#222" stroke-width="1.2"/>
<g transform="rotate(-45 753.0 643.8)"><text x="753.7" y="630.6" font-size="15.6" text-anchor="end" fill="#111">7</text><text x="746.1" y="643.8" font-size="24" text-anchor="end" textLength="83.8" lengthAdjust="spacingAndGlyphs" fill="#111">4.0 × 10</text></g>
<line x1="790.8" y1="608.6" x2="790.8" y2="618.8" stroke="#222" stroke-width="1.2"/>
<g transform="rotate(-45 803.5 643.8)"><text x="804.2" y="630.6" font-size="15.6" text-anchor="end" fill="#111">7</text><text x="796.6" y="643.8" font-size="24" text-anchor="end" textLength="83.8" lengthAdjust="spacingAndGlyphs" fill="#111">5.0 × 10</text></g>
<line x1="563.0" y1="703.5" x2="563.0" y2="752.5" stroke="#44546A" stroke-width="4.0"/>
<path d="M563.0,765.5 L555.8,749.5 L563.0,753.0 L570.2,749.5 Z" fill="#44546A"/>
<text x="659.5" y="737.0" font-size="27" text-anchor="middle" textLength="134.0" lengthAdjust="spacingAndGlyphs" fill="#111">Number of</text>
<text x="659.5" y="768.0" font-size="27" text-anchor="middle" textLength="70.0" lengthAdjust="spacingAndGlyphs" fill="#111">reads</text>
<text x="819.5" y="327.0" font-size="28.3" textLength="106.0" lengthAdjust="spacingAndGlyphs" fill="#111">Platform</text>
<line x1="821.3" y1="351.8" x2="844.8" y2="351.8" stroke="#6F84B3" stroke-width="2.3" stroke-linecap="round"/>
<text x="858.3" y="359.9" font-size="23.5" textLength="191.0" lengthAdjust="spacingAndGlyphs" fill="#111">BMKMANU S1000</text>
<line x1="821.3" y1="386.7" x2="844.8" y2="386.7" stroke="#9A6468" stroke-width="2.3" stroke-linecap="round"/>
<text x="858.3" y="394.8" font-size="23.5" textLength="94.0" lengthAdjust="spacingAndGlyphs" fill="#111">DBiT-seq</text>
<line x1="821.3" y1="425.0" x2="844.8" y2="425.0" stroke="#DC7F88" stroke-width="2.3" stroke-linecap="round"/>
<text x="858.3" y="433.1" font-size="23.5" textLength="128.0" lengthAdjust="spacingAndGlyphs" fill="#111">DynaSpatial</text>
<line x1="821.3" y1="463.6" x2="844.8" y2="463.6" stroke="#9D88C4" stroke-width="2.3" stroke-linecap="round"/>
<text x="858.3" y="471.7" font-size="23.5" textLength="57.0" lengthAdjust="spacingAndGlyphs" fill="#111">Salus</text>
<line x1="821.3" y1="500.0" x2="844.8" y2="500.0" stroke="#F0AB9E" stroke-width="2.3" stroke-linecap="round"/>
<text x="858.3" y="508.1" font-size="23.5" textLength="127.0" lengthAdjust="spacingAndGlyphs" fill="#111">Slide-seqV2</text>
<line x1="821.3" y1="539.6" x2="844.8" y2="539.6" stroke="#3DAD97" stroke-width="2.3" stroke-linecap="round"/>
<text x="858.3" y="547.7" font-size="23.5" textLength="116.0" lengthAdjust="spacingAndGlyphs" fill="#111">Stereo-seq</text>
<line x1="821.3" y1="579.1" x2="844.8" y2="579.1" stroke="#4AC3DF" stroke-width="2.3" stroke-linecap="round"/>
<text x="858.3" y="587.2" font-size="23.5" textLength="148.0" lengthAdjust="spacingAndGlyphs" fill="#111">Visium(polyA)</text>
<line x1="821.3" y1="617.4" x2="844.8" y2="617.4" stroke="#99CFC1" stroke-width="2.3" stroke-linecap="round"/>
<text x="858.3" y="625.5" font-size="23.5" textLength="151.0" lengthAdjust="spacingAndGlyphs" fill="#111">Visium(probe)</text>
<rect x="1484.3" y="318.4" width="281.5" height="292.2" fill="#fff"/>
<line x1="1539.1" y1="318.4" x2="1539.1" y2="610.6" stroke="#EEEFF1" stroke-width="0.8"/>
<line x1="1625.8" y1="318.4" x2="1625.8" y2="610.6" stroke="#EEEFF1" stroke-width="0.8"/>
<line x1="1712.4" y1="318.4" x2="1712.4" y2="610.6" stroke="#EEEFF1" stroke-width="0.8"/>
<line x1="1495.8" y1="318.4" x2="1495.8" y2="610.6" stroke="#E9EAEC" stroke-width="1.3"/>
<line x1="1582.4" y1="318.4" x2="1582.4" y2="610.6" stroke="#E9EAEC" stroke-width="1.3"/>
<line x1="1669.1" y1="318.4" x2="1669.1" y2="610.6" stroke="#E9EAEC" stroke-width="1.3"/>
<line x1="1755.7" y1="318.4" x2="1755.7" y2="610.6" stroke="#E9EAEC" stroke-width="1.3"/>
<line x1="1484.3" y1="570.8" x2="1765.8" y2="570.8" stroke="#EEEFF1" stroke-width="0.8"/>
<line x1="1484.3" y1="504.4" x2="1765.8" y2="504.4" stroke="#EEEFF1" stroke-width="0.8"/>
<line x1="1484.3" y1="438.1" x2="1765.8" y2="438.1" stroke="#EEEFF1" stroke-width="0.8"/>
<line x1="1484.3" y1="371.8" x2="1765.8" y2="371.8" stroke="#EEEFF1" stroke-width="0.8"/>
<line x1="1484.3" y1="603.9" x2="1765.8" y2="603.9" stroke="#E9EAEC" stroke-width="1.3"/>
<line x1="1484.3" y1="537.6" x2="1765.8" y2="537.6" stroke="#E9EAEC" stroke-width="1.3"/>
<line x1="1484.3" y1="471.2" x2="1765.8" y2="471.2" stroke="#E9EAEC" stroke-width="1.3"/>
<line x1="1484.3" y1="404.9" x2="1765.8" y2="404.9" stroke="#E9EAEC" stroke-width="1.3"/>
<line x1="1484.3" y1="338.6" x2="1765.8" y2="338.6" stroke="#E9EAEC" stroke-width="1.3"/>
<line x1="1532.8" y1="318.4" x2="1532.8" y2="610.6" stroke="#555" stroke-width="2.0" stroke-dasharray="11.2 7.2" stroke-dashoffset="0.5"/>
<path d="M1496.7,596.2 C1497.8,593.2 1500.6,583.6 1503.3,578.3 C1506.0,573.0 1507.9,569.4 1512.7,564.5 C1517.6,559.7 1526.1,553.9 1532.5,549.1 L1550.5,538.7 L1569.3,530.2" fill="none" stroke="#6F84B3" stroke-width="2.1" stroke-linecap="butt" stroke-linejoin="round"/>
<path d="M1496.7,596.2 C1497.8,593.1 1500.6,583.3 1503.3,577.7 C1506.0,572.1 1508.3,567.7 1512.7,562.6 C1517.1,557.5 1525.2,550.4 1529.7,547.2 C1534.3,543.9 1537.3,544.1 1540.1,543.0" fill="none" stroke="#4AC3DF" stroke-width="2.2" stroke-linecap="butt" stroke-linejoin="round"/>
<path d="M1496.7,596.2 C1498.4,591.8 1503.1,578.0 1507.1,569.8 C1511.0,561.6 1516.0,553.0 1520.3,547.2 C1524.5,541.4 1528.0,538.9 1532.5,534.9 L1551.8,524.5" fill="none" stroke="#4AC3DF" stroke-width="2.1" stroke-linecap="butt" stroke-linejoin="round"/>
<path d="M1496.7,596.2 C1498.1,590.6 1501.6,571.2 1505.2,562.3 C1508.8,553.3 1513.8,548.7 1518.4,542.5 C1523.0,536.2 1527.3,530.4 1532.5,524.5 L1554.2,508.5 L1592.0,485.8 L1640.4,464.8 L1689.5,446.3" fill="none" stroke="#3DAD97" stroke-width="2.1" stroke-linecap="butt" stroke-linejoin="round"/>
<path d="M1496.7,596.2 C1498.7,588.5 1505.0,561.3 1509.0,550.0 C1512.9,538.7 1516.4,535.2 1520.3,528.3 C1524.2,521.4 1528.1,514.8 1532.5,508.5 L1550.5,492.5 L1573.1,475.5 L1603.3,458.5 L1625.9,445.3 L1689.1,416.9 L1752.8,393.1" fill="none" stroke="#3DAD97" stroke-width="2.1" stroke-linecap="butt" stroke-linejoin="round"/>
<path d="M1496.7,596.2 C1498.7,587.4 1505.2,556.6 1509.0,543.4 C1512.7,530.2 1515.4,525.2 1519.3,517.0 C1523.3,508.8 1527.6,502.0 1532.5,494.3 L1554.2,469.8 L1574.4,452.8" fill="none" stroke="#6F84B3" stroke-width="2.1" stroke-linecap="butt" stroke-linejoin="round"/>
<path d="M1496.7,596.2 C1498.1,588.7 1501.7,566.0 1505.2,550.9 C1508.6,535.8 1513.1,519.2 1517.5,505.7 C1521.9,492.1 1527.8,479.4 1531.6,469.8" fill="none" stroke="#F0AB9E" stroke-width="2.1" stroke-linecap="butt" stroke-linejoin="round"/>
<path d="M1496.7,596.2 C1498.1,588.5 1501.7,565.4 1505.2,550.0 C1508.6,534.6 1512.9,518.7 1517.5,503.8 C1522.0,488.8 1527.1,474.3 1532.5,460.4 L1554.2,425.5 L1573.1,404.7" fill="none" stroke="#DC7F88" stroke-width="2.1" stroke-linecap="butt" stroke-linejoin="round"/>
<path d="M1496.7,596.2 C1498.1,588.4 1501.9,564.8 1505.2,549.1 C1508.5,533.3 1511.9,519.2 1516.5,501.9 C1521.1,484.6 1527.7,461.5 1532.5,445.3 L1541.0,428.3 L1555.9,401.2" fill="none" stroke="#DC7F88" stroke-width="2.1" stroke-linecap="butt" stroke-linejoin="round"/>
<path d="M1496.7,596.2 C1497.8,588.7 1500.6,566.0 1503.3,550.9 C1506.0,535.8 1509.6,519.2 1512.7,505.7 C1515.9,492.1 1518.9,481.8 1522.2,469.8 C1525.5,457.9 1529.0,445.0 1532.5,434.0 L1544.8,411.3 L1545.5,410.4 L1576.7,368.7 L1617.3,343.7 L1657.3,331.7" fill="none" stroke="#99CFC1" stroke-width="2.1" stroke-linecap="butt" stroke-linejoin="round"/>
<rect x="1484.3" y="318.4" width="281.5" height="292.2" fill="none" stroke="#2a2a2a" stroke-width="1.25"/>
<line x1="1474.3" y1="338.6" x2="1484.3" y2="338.6" stroke="#222" stroke-width="1.2"/>
<text x="1462.9" y="332.6" font-size="15.6" text-anchor="end" fill="#111">6</text><text x="1454.0" y="345.8" font-size="24" text-anchor="end" textLength="83.8" lengthAdjust="spacingAndGlyphs" fill="#111">8.0 × 10</text>
<line x1="1474.3" y1="404.9" x2="1484.3" y2="404.9" stroke="#222" stroke-width="1.2"/>
<text x="1462.9" y="398.9" font-size="15.6" text-anchor="end" fill="#111">6</text><text x="1454.0" y="412.1" font-size="24" text-anchor="end" textLength="83.8" lengthAdjust="spacingAndGlyphs" fill="#111">6.0 × 10</text>
<line x1="1474.3" y1="471.2" x2="1484.3" y2="471.2" stroke="#222" stroke-width="1.2"/>
<text x="1462.9" y="465.2" font-size="15.6" text-anchor="end" fill="#111">6</text><text x="1454.0" y="478.4" font-size="24" text-anchor="end" textLength="83.8" lengthAdjust="spacingAndGlyphs" fill="#111">4.0 × 10</text>
<line x1="1474.3" y1="537.6" x2="1484.3" y2="537.6" stroke="#222" stroke-width="1.2"/>
<text x="1462.9" y="531.6" font-size="15.6" text-anchor="end" fill="#111">6</text><text x="1454.0" y="544.8" font-size="24" text-anchor="end" textLength="83.8" lengthAdjust="spacingAndGlyphs" fill="#111">2.0 × 10</text>
<line x1="1474.3" y1="603.9" x2="1484.3" y2="603.9" stroke="#222" stroke-width="1.2"/>
<text x="1461.5" y="611.3" font-size="24" text-anchor="end" fill="#111">0</text>
<text x="1350.5" y="465.0" font-size="27" text-anchor="middle" textLength="155.3" lengthAdjust="spacingAndGlyphs" transform="rotate(-90 1350.5 465.0)" fill="#111">Total counts</text>
<line x1="1495.8" y1="610.6" x2="1495.8" y2="620.8" stroke="#222" stroke-width="1.2"/>
<text transform="translate(1496.1 643.5) rotate(-45)" x="0" y="8.3" font-size="24" text-anchor="middle" fill="#111">0</text>
<line x1="1582.4" y1="610.6" x2="1582.4" y2="620.8" stroke="#222" stroke-width="1.2"/>
<g transform="rotate(-45 1595.1 645.8)"><text x="1595.8" y="632.6" font-size="15.6" text-anchor="end" fill="#111">7</text><text x="1588.2" y="645.8" font-size="24" text-anchor="end" textLength="83.8" lengthAdjust="spacingAndGlyphs" fill="#111">2.0 × 10</text></g>
<line x1="1669.1" y1="610.6" x2="1669.1" y2="620.8" stroke="#222" stroke-width="1.2"/>
<g transform="rotate(-45 1681.8 645.8)"><text x="1682.5" y="632.6" font-size="15.6" text-anchor="end" fill="#111">7</text><text x="1674.9" y="645.8" font-size="24" text-anchor="end" textLength="83.8" lengthAdjust="spacingAndGlyphs" fill="#111">4.0 × 10</text></g>
<line x1="1755.7" y1="610.6" x2="1755.7" y2="620.8" stroke="#222" stroke-width="1.2"/>
<g transform="rotate(-45 1768.4 645.8)"><text x="1769.1" y="632.6" font-size="15.6" text-anchor="end" fill="#111">7</text><text x="1761.5" y="645.8" font-size="24" text-anchor="end" textLength="83.8" lengthAdjust="spacingAndGlyphs" fill="#111">6.0 × 10</text></g>
<line x1="1534.5" y1="714.0" x2="1560.4" y2="774.1" stroke="#44546A" stroke-width="4.0"/>
<path d="M1565.5,786.0 L1552.6,774.2 L1560.6,774.5 L1565.8,768.5 Z" fill="#44546A"/>
<text x="1624.0" y="744.5" font-size="27" text-anchor="middle" textLength="134.0" lengthAdjust="spacingAndGlyphs" fill="#111">Number of</text>
<text x="1624.0" y="776.0" font-size="27" text-anchor="middle" textLength="70.0" lengthAdjust="spacingAndGlyphs" fill="#111">reads</text>
<text x="1792.5" y="335.7" font-size="28.3" textLength="106.0" lengthAdjust="spacingAndGlyphs" fill="#111">Platform</text>
<line x1="1795.3" y1="361.0" x2="1818.6" y2="361.0" stroke="#6F84B3" stroke-width="2.3" stroke-linecap="round"/>
<text x="1832.9" y="369.1" font-size="23.5" textLength="191.0" lengthAdjust="spacingAndGlyphs" fill="#111">BMKMANU S1000</text>
<line x1="1795.3" y1="395.3" x2="1818.6" y2="395.3" stroke="#DC7F88" stroke-width="2.3" stroke-linecap="round"/>
<text x="1832.9" y="403.4" font-size="23.5" textLength="128.0" lengthAdjust="spacingAndGlyphs" fill="#111">DynaSpatial</text>
<line x1="1795.3" y1="435.2" x2="1818.6" y2="435.2" stroke="#9D88C4" stroke-width="2.3" stroke-linecap="round"/>
<text x="1832.9" y="443.3" font-size="23.5" textLength="57.0" lengthAdjust="spacingAndGlyphs" fill="#111">Salus</text>
<line x1="1795.3" y1="471.0" x2="1818.6" y2="471.0" stroke="#F0AB9E" stroke-width="2.3" stroke-linecap="round"/>
<text x="1832.9" y="479.1" font-size="23.5" textLength="127.0" lengthAdjust="spacingAndGlyphs" fill="#111">Slide-seqV2</text>
<line x1="1795.3" y1="510.5" x2="1818.6" y2="510.5" stroke="#3DAD97" stroke-width="2.3" stroke-linecap="round"/>
<text x="1832.9" y="518.6" font-size="23.5" textLength="116.0" lengthAdjust="spacingAndGlyphs" fill="#111">Stereo-seq</text>
<line x1="1795.3" y1="550.4" x2="1818.6" y2="550.4" stroke="#4AC3DF" stroke-width="2.3" stroke-linecap="round"/>
<text x="1832.9" y="558.5" font-size="23.5" textLength="148.0" lengthAdjust="spacingAndGlyphs" fill="#111">Visium(polyA)</text>
<line x1="1795.3" y1="590.5" x2="1818.6" y2="590.5" stroke="#99CFC1" stroke-width="2.3" stroke-linecap="round"/>
<text x="1832.9" y="598.6" font-size="23.5" textLength="151.0" lengthAdjust="spacingAndGlyphs" fill="#111">Visium(probe)</text>
<line x1="216.1" y1="812.5" x2="216.1" y2="1103.9" stroke="#555" stroke-width="1.4"/>
<line x1="215.4" y1="1103.2" x2="531.0" y2="1103.2" stroke="#555" stroke-width="1.4"/>
<line x1="542.0" y1="1103.2" x2="858.0" y2="1103.2" stroke="#555" stroke-width="1.4"/>
<line x1="206.2" y1="819.6" x2="216.1" y2="819.6" stroke="#333" stroke-width="1.2"/>
<text x="197.3" y="814.8" font-size="15.6" text-anchor="end" fill="#111">7</text><text x="189.7" y="828.0" font-size="24" text-anchor="end" textLength="82.2" lengthAdjust="spacingAndGlyphs" fill="#111">1.0 × 10</text>
<line x1="206.2" y1="887.2" x2="216.1" y2="887.2" stroke="#333" stroke-width="1.2"/>
<text x="197.3" y="882.4" font-size="15.6" text-anchor="end" fill="#111">6</text><text x="188.4" y="895.6" font-size="24" text-anchor="end" textLength="83.8" lengthAdjust="spacingAndGlyphs" fill="#111">7.5 × 10</text>
<line x1="206.2" y1="954.8" x2="216.1" y2="954.8" stroke="#333" stroke-width="1.2"/>
<text x="197.3" y="950.0" font-size="15.6" text-anchor="end" fill="#111">6</text><text x="188.4" y="963.2" font-size="24" text-anchor="end" textLength="83.8" lengthAdjust="spacingAndGlyphs" fill="#111">5.0 × 10</text>
<line x1="206.2" y1="1022.4" x2="216.1" y2="1022.4" stroke="#333" stroke-width="1.2"/>
<text x="197.3" y="1017.6" font-size="15.6" text-anchor="end" fill="#111">6</text><text x="188.4" y="1030.8" font-size="24" text-anchor="end" textLength="83.8" lengthAdjust="spacingAndGlyphs" fill="#111">2.5 × 10</text>
<line x1="206.2" y1="1090.0" x2="216.1" y2="1090.0" stroke="#333" stroke-width="1.2"/>
<text x="195.8" y="1097.7" font-size="24" text-anchor="end" fill="#111">0</text>
<text x="77.0" y="957.8" font-size="27" text-anchor="middle" textLength="156.5" lengthAdjust="spacingAndGlyphs" transform="rotate(-90 77.0 957.8)" fill="#111">Total counts</text>
<text x="373.0" y="804.8" font-size="27" text-anchor="middle" textLength="111.0" lengthAdjust="spacingAndGlyphs" fill="#111">All reads</text>
<text x="699.0" y="804.8" font-size="27" text-anchor="middle" textLength="182.0" lengthAdjust="spacingAndGlyphs" fill="#111">Downsampled</text>
<rect x="219.2" y="928.8" width="18.9" height="161.1" fill="#E6907A"/>
<rect x="240.1" y="923.7" width="18.9" height="166.2" fill="#10AFCF"/>
<rect x="260.1" y="961.0" width="18.9" height="128.9" fill="#7DB8AE"/>
<rect x="281.1" y="928.8" width="18.9" height="161.1" fill="#10AFCF"/>
<rect x="302.0" y="992.7" width="18.9" height="97.2" fill="#E6907A"/>
<rect x="323.3" y="824.7" width="18.9" height="265.2" fill="#00967D"/>
<rect x="343.1" y="997.9" width="18.9" height="92.0" fill="#CF5B69"/>
<rect x="364.2" y="881.7" width="18.9" height="208.2" fill="#00967D"/>
<rect x="385.0" y="984.0" width="18.9" height="105.9" fill="#8268A6"/>
<rect x="405.8" y="985.0" width="18.9" height="104.9" fill="#8268A6"/>
<rect x="425.9" y="989.8" width="18.9" height="100.1" fill="#3A578A"/>
<rect x="447.1" y="1011.0" width="18.9" height="78.9" fill="#3A578A"/>
<rect x="467.9" y="1070.9" width="18.9" height="19.0" fill="#813A3F"/>
<rect x="489.1" y="874.0" width="18.9" height="215.9" fill="#D478AE"/>
<rect x="508.8" y="1073.8" width="18.9" height="16.1" fill="#F08030"/>
<rect x="544.8" y="993.0" width="19.0" height="96.9" fill="#E6907A"/>
<rect x="566.0" y="1003.8" width="19.0" height="86.1" fill="#10AFCF"/>
<rect x="586.8" y="1003.8" width="19.0" height="86.1" fill="#7DB8AE"/>
<rect x="607.9" y="1005.0" width="19.0" height="84.9" fill="#10AFCF"/>
<rect x="627.9" y="1006.2" width="19.0" height="83.7" fill="#E6907A"/>
<rect x="648.7" y="1009.8" width="19.0" height="80.1" fill="#00967D"/>
<rect x="669.9" y="1009.8" width="19.0" height="80.1" fill="#CF5B69"/>
<rect x="690.7" y="1015.0" width="19.0" height="74.9" fill="#00967D"/>
<rect x="711.1" y="1016.2" width="19.0" height="73.7" fill="#8268A6"/>
<rect x="731.9" y="1017.0" width="19.0" height="72.9" fill="#8268A6"/>
<rect x="753.0" y="1019.0" width="19.0" height="70.9" fill="#3A578A"/>
<rect x="773.8" y="1030.2" width="19.0" height="59.7" fill="#3A578A"/>
<rect x="794.2" y="1071.0" width="19.0" height="18.9" fill="#813A3F"/>
<text x="863.5" y="736.0" font-size="28.3" textLength="120.0" lengthAdjust="spacingAndGlyphs" fill="#111">Platforms</text>
<rect x="868.1" y="754.1" width="23.8" height="23.8" fill="#3A578A"/>
<text x="907.0" y="773.1" font-size="23.5" textLength="191.0" lengthAdjust="spacingAndGlyphs" fill="#111">BMKMANU S1000</text>
<rect x="868.1" y="794.1" width="23.8" height="23.8" fill="#F08030"/>
<text x="907.0" y="813.1" font-size="23.5" textLength="97.0" lengthAdjust="spacingAndGlyphs" fill="#111">Curio Bio</text>
<rect x="868.1" y="835.6" width="23.8" height="23.8" fill="#813A3F"/>
<text x="907.0" y="854.6" font-size="23.5" textLength="94.0" lengthAdjust="spacingAndGlyphs" fill="#111">DBiT-seq</text>
<rect x="868.1" y="877.0" width="23.8" height="23.8" fill="#CF5B69"/>
<text x="907.0" y="896.0" font-size="23.5" textLength="128.0" lengthAdjust="spacingAndGlyphs" fill="#111">DynaSpatial</text>
<rect x="868.1" y="918.3" width="23.8" height="23.8" fill="#8268A6"/>
<text x="907.0" y="937.3" font-size="23.5" textLength="57.0" lengthAdjust="spacingAndGlyphs" fill="#111">Salus</text>
<rect x="868.1" y="959.6" width="23.8" height="23.8" fill="#E6907A"/>
<text x="907.0" y="978.6" font-size="23.5" textLength="127.0" lengthAdjust="spacingAndGlyphs" fill="#111">Slide-seqV2</text>
<rect x="868.1" y="1000.6" width="23.8" height="23.8" fill="#D478AE"/>
<text x="907.0" y="1019.6" font-size="23.5" textLength="96.0" lengthAdjust="spacingAndGlyphs" fill="#111">Slide-tag</text>
<rect x="868.1" y="1041.8" width="23.8" height="23.8" fill="#00967D"/>
<text x="907.0" y="1060.8" font-size="23.5" textLength="116.0" lengthAdjust="spacingAndGlyphs" fill="#111">Stereo-seq</text>
<rect x="868.1" y="1083.4" width="23.8" height="23.8" fill="#10AFCF"/>
<text x="907.0" y="1102.4" font-size="23.5" textLength="148.0" lengthAdjust="spacingAndGlyphs" fill="#111">Visium(polyA)</text>
<rect x="868.1" y="1124.7" width="23.8" height="23.8" fill="#7DB8AE"/>
<text x="907.0" y="1143.7" font-size="23.5" textLength="151.0" lengthAdjust="spacingAndGlyphs" fill="#111">Visium(probe)</text>
<line x1="1272.5" y1="828.4" x2="1272.5" y2="1141.9" stroke="#222" stroke-width="1.2"/>
<line x1="1271.9" y1="1141.3" x2="1620.5" y2="1141.3" stroke="#333" stroke-width="1.3"/>
<line x1="1632.4" y1="1141.3" x2="1979.5" y2="1141.3" stroke="#555" stroke-width="1.3"/>
<line x1="1263.0" y1="853.9" x2="1272.5" y2="853.9" stroke="#333" stroke-width="1.2"/>
<text x="1253.1" y="848.7" font-size="15.6" text-anchor="end" fill="#111">6</text><text x="1244.2" y="861.9" font-size="24" text-anchor="end" textLength="83.8" lengthAdjust="spacingAndGlyphs" fill="#111">8.0 × 10</text>
<line x1="1263.0" y1="922.3" x2="1272.5" y2="922.3" stroke="#333" stroke-width="1.2"/>
<text x="1253.1" y="917.1" font-size="15.6" text-anchor="end" fill="#111">6</text><text x="1244.2" y="930.3" font-size="24" text-anchor="end" textLength="83.8" lengthAdjust="spacingAndGlyphs" fill="#111">6.0 × 10</text>
<line x1="1263.0" y1="990.7" x2="1272.5" y2="990.7" stroke="#333" stroke-width="1.2"/>
<text x="1253.1" y="985.5" font-size="15.6" text-anchor="end" fill="#111">6</text><text x="1244.2" y="998.7" font-size="24" text-anchor="end" textLength="83.8" lengthAdjust="spacingAndGlyphs" fill="#111">4.0 × 10</text>
<line x1="1263.0" y1="1059.1" x2="1272.5" y2="1059.1" stroke="#333" stroke-width="1.2"/>
<text x="1253.1" y="1053.9" font-size="15.6" text-anchor="end" fill="#111">6</text><text x="1244.2" y="1067.1" font-size="24" text-anchor="end" textLength="83.8" lengthAdjust="spacingAndGlyphs" fill="#111">2.0 × 10</text>
<line x1="1263.0" y1="1127.5" x2="1272.5" y2="1127.5" stroke="#333" stroke-width="1.2"/>
<text x="1253.3" y="1134.9" font-size="24" text-anchor="end" fill="#111">0</text>
<text x="1142.4" y="985.3" font-size="27" text-anchor="middle" textLength="157.0" lengthAdjust="spacingAndGlyphs" transform="rotate(-90 1142.4 985.3)" fill="#111">Total counts</text>
<text x="1446.0" y="815.5" font-size="27" text-anchor="middle" textLength="111.0" lengthAdjust="spacingAndGlyphs" fill="#111">All reads</text>
<text x="1806.0" y="815.5" font-size="27" text-anchor="middle" textLength="182.0" lengthAdjust="spacingAndGlyphs" fill="#111">Downsampled</text>
<rect x="1276.1" y="843.0" width="23.9" height="284.9" fill="#7DB8AE"/>
<rect x="1303.0" y="878.8" width="23.9" height="249.1" fill="#7DB8AE"/>
<rect x="1329.1" y="974.9" width="23.9" height="153.0" fill="#CF5B69"/>
<rect x="1355.2" y="982.9" width="23.9" height="145.0" fill="#CF5B69"/>
<rect x="1382.0" y="1031.1" width="23.9" height="96.8" fill="#E6907A"/>
<rect x="1408.3" y="982.9" width="23.9" height="145.0" fill="#3A578A"/>
<rect x="1434.3" y="924.8" width="23.9" height="203.1" fill="#00967D"/>
<rect x="1461.2" y="976.7" width="23.9" height="151.2" fill="#00967D"/>
<rect x="1487.3" y="1047.9" width="23.9" height="80.0" fill="#10AFCF"/>
<rect x="1514.1" y="1066.9" width="23.9" height="61.0" fill="#10AFCF"/>
<rect x="1540.2" y="1066.9" width="23.9" height="61.0" fill="#3A578A"/>
<rect x="1566.5" y="1087.8" width="23.9" height="40.1" fill="#8268A6"/>
<rect x="1593.2" y="1091.0" width="23.9" height="36.9" fill="#F08030"/>
<rect x="1636.2" y="944.9" width="23.8" height="183.0" fill="#7DB8AE"/>
<rect x="1662.0" y="953.9" width="23.8" height="174.0" fill="#7DB8AE"/>
<rect x="1689.1" y="966.1" width="23.8" height="161.8" fill="#CF5B69"/>
<rect x="1715.3" y="980.8" width="23.8" height="147.1" fill="#CF5B69"/>
<rect x="1741.4" y="988.8" width="23.8" height="139.1" fill="#E6907A"/>
<rect x="1768.2" y="1014.9" width="23.8" height="113.0" fill="#3A578A"/>
<rect x="1794.3" y="1029.8" width="23.8" height="98.1" fill="#00967D"/>
<rect x="1821.4" y="1045.9" width="23.8" height="82.0" fill="#00967D"/>
<rect x="1847.2" y="1056.7" width="23.8" height="71.2" fill="#10AFCF"/>
<rect x="1873.3" y="1067.8" width="23.8" height="60.1" fill="#10AFCF"/>
<rect x="1900.1" y="1069.9" width="23.8" height="58.0" fill="#3A578A"/>
<text x="1984.5" y="808.7" font-size="28.3" textLength="120.0" lengthAdjust="spacingAndGlyphs" fill="#111">Platforms</text>
<rect x="1991.0" y="827.0" width="24.0" height="23.8" fill="#3A578A"/>
<text x="2028.8" y="846.2" font-size="23.5" textLength="191.0" lengthAdjust="spacingAndGlyphs" fill="#111">BMKMANU S1000</text>
<rect x="1991.0" y="869.1" width="24.0" height="23.8" fill="#F08030"/>
<text x="2028.8" y="888.3" font-size="23.5" textLength="97.0" lengthAdjust="spacingAndGlyphs" fill="#111">Curio Bio</text>
<rect x="1991.0" y="911.9" width="24.0" height="23.8" fill="#CF5B69"/>
<text x="2028.8" y="931.1" font-size="23.5" textLength="128.0" lengthAdjust="spacingAndGlyphs" fill="#111">DynaSpatial</text>
<rect x="1991.0" y="953.7" width="24.0" height="23.8" fill="#8268A6"/>
<text x="2028.8" y="972.9" font-size="23.5" textLength="57.0" lengthAdjust="spacingAndGlyphs" fill="#111">Salus</text>
<rect x="1991.0" y="994.5" width="24.0" height="23.8" fill="#E6907A"/>
<text x="2028.8" y="1013.7" font-size="23.5" textLength="127.0" lengthAdjust="spacingAndGlyphs" fill="#111">Slide-seqV2</text>
<rect x="1991.0" y="1036.2" width="24.0" height="23.8" fill="#00967D"/>
<text x="2028.8" y="1055.4" font-size="23.5" textLength="116.0" lengthAdjust="spacingAndGlyphs" fill="#111">Stereo-seq</text>
<rect x="1991.0" y="1077.8" width="24.0" height="23.8" fill="#10AFCF"/>
<text x="2028.8" y="1097.0" font-size="23.5" textLength="148.0" lengthAdjust="spacingAndGlyphs" fill="#111">Visium(polyA)</text>
<rect x="1991.0" y="1120.3" width="24.0" height="23.8" fill="#7DB8AE"/>
<text x="2028.8" y="1139.5" font-size="23.5" textLength="151.0" lengthAdjust="spacingAndGlyphs" fill="#111">Visium(probe)</text>
<rect x="809.2" y="121.1" width="18.6" height="88.9" fill="url(#cb1)"/>
<line x1="809.2" y1="135.5" x2="813.0" y2="135.5" stroke="#fff" stroke-width="1.1" opacity="0.85"/>
<line x1="822.8" y1="135.5" x2="827.8" y2="135.5" stroke="#fff" stroke-width="1.1" opacity="0.85"/>
<line x1="809.2" y1="154.2" x2="813.0" y2="154.2" stroke="#fff" stroke-width="1.1" opacity="0.85"/>
<line x1="822.8" y1="154.2" x2="827.8" y2="154.2" stroke="#fff" stroke-width="1.1" opacity="0.85"/>
<line x1="809.2" y1="173" x2="813.0" y2="173" stroke="#fff" stroke-width="1.1" opacity="0.85"/>
<line x1="822.8" y1="173" x2="827.8" y2="173" stroke="#fff" stroke-width="1.1" opacity="0.85"/>
<line x1="809.2" y1="191.6" x2="813.0" y2="191.6" stroke="#fff" stroke-width="1.1" opacity="0.85"/>
<line x1="822.8" y1="191.6" x2="827.8" y2="191.6" stroke="#fff" stroke-width="1.1" opacity="0.85"/>
<text x="832.8" y="139.7" font-size="14.6" textLength="37.8" lengthAdjust="spacingAndGlyphs" fill="#111">1,200</text>
<text x="832.8" y="158.1" font-size="14.6" textLength="39.6" lengthAdjust="spacingAndGlyphs" fill="#111">1,000</text>
<text x="832.8" y="176.5" font-size="14.6" textLength="27.4" lengthAdjust="spacingAndGlyphs" fill="#111">800</text>
<text x="832.8" y="195.4" font-size="14.6" textLength="27.4" lengthAdjust="spacingAndGlyphs" fill="#111">600</text>
<rect x="1756.2" y="107.3" width="17.8" height="81.6" fill="url(#cb2)"/>
<line x1="1756.2" y1="110.1" x2="1760.0" y2="110.1" stroke="#fff" stroke-width="1.1" opacity="0.85"/>
<line x1="1769.0" y1="110.1" x2="1774" y2="110.1" stroke="#fff" stroke-width="1.1" opacity="0.85"/>
<line x1="1756.2" y1="125.9" x2="1760.0" y2="125.9" stroke="#fff" stroke-width="1.1" opacity="0.85"/>
<line x1="1769.0" y1="125.9" x2="1774" y2="125.9" stroke="#fff" stroke-width="1.1" opacity="0.85"/>
<line x1="1756.2" y1="142" x2="1760.0" y2="142" stroke="#fff" stroke-width="1.1" opacity="0.85"/>
<line x1="1769.0" y1="142" x2="1774" y2="142" stroke="#fff" stroke-width="1.1" opacity="0.85"/>
<line x1="1756.2" y1="158" x2="1760.0" y2="158" stroke="#fff" stroke-width="1.1" opacity="0.85"/>
<line x1="1769.0" y1="158" x2="1774" y2="158" stroke="#fff" stroke-width="1.1" opacity="0.85"/>
<line x1="1756.2" y1="174.1" x2="1760.0" y2="174.1" stroke="#fff" stroke-width="1.1" opacity="0.85"/>
<line x1="1769.0" y1="174.1" x2="1774" y2="174.1" stroke="#fff" stroke-width="1.1" opacity="0.85"/>
<text x="1778.2" y="114.4" font-size="14" textLength="42" lengthAdjust="spacingAndGlyphs" fill="#111">3,000</text>
<text x="1778.2" y="130.3" font-size="14" textLength="40.1" lengthAdjust="spacingAndGlyphs" fill="#111">2,500</text>
<text x="1778.2" y="146.3" font-size="14" textLength="42" lengthAdjust="spacingAndGlyphs" fill="#111">2,000</text>
<text x="1778.2" y="162.3" font-size="14" textLength="37.7" lengthAdjust="spacingAndGlyphs" fill="#111">1,500</text>
<text x="1778.2" y="178.4" font-size="14" textLength="39.2" lengthAdjust="spacingAndGlyphs" fill="#111">1,000</text>
</svg></body></html>
